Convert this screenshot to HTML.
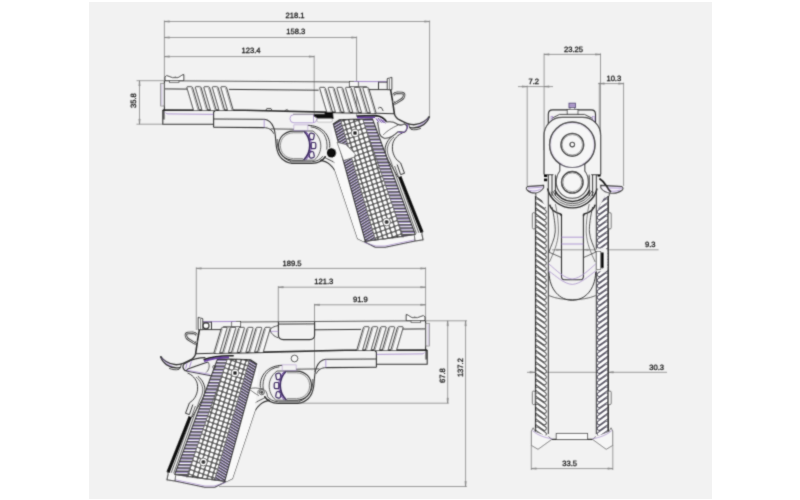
<!DOCTYPE html>
<html><head><meta charset="utf-8"><title>Pistol dimensions</title>
<style>
html,body{margin:0;padding:0;background:#fff;}
body{width:800px;height:500px;overflow:hidden;font-family:"Liberation Sans",sans-serif;}
svg{display:block}
svg text{font-family:"Liberation Sans",sans-serif;font-size:7.6px;fill:#161616;stroke:#161616;stroke-width:0.28px;text-rendering:geometricPrecision;}
</style></head><body>
<svg width="800" height="500" viewBox="0 0 800 500">
<rect x="0" y="0" width="800" height="500" fill="#ffffff"/>
<rect x="89" y="2" width="623" height="497" fill="#f2f2f2"/>
<defs><filter id="soft" x="0" y="0" width="800" height="500" filterUnits="userSpaceOnUse"><feConvolveMatrix order="3" kernelMatrix="0.03 0.1 0.03 0.1 0.48 0.1 0.03 0.1 0.03" divisor="1" edgeMode="none" preserveAlpha="false"/></filter></defs>
<g id="drawing" filter="url(#soft)">
<g id="dims" opacity="0.999">
<line x1="164.4" y1="21.5" x2="429.6" y2="21.5" stroke="#858585" stroke-width="0.8" />
<line x1="164.4" y1="37.5" x2="356.6" y2="37.5" stroke="#858585" stroke-width="0.8" />
<line x1="164.4" y1="56.6" x2="314.2" y2="56.6" stroke="#858585" stroke-width="0.8" />
<line x1="164.4" y1="20.5" x2="164.4" y2="80.5" stroke="#858585" stroke-width="0.8" />
<line x1="429.6" y1="20.5" x2="429.6" y2="116.3" stroke="#858585" stroke-width="0.8" />
<line x1="356.6" y1="36.5" x2="356.6" y2="116" stroke="#858585" stroke-width="0.8" />
<line x1="314.2" y1="55.6" x2="314.2" y2="114" stroke="#858585" stroke-width="0.8" />
<path d="M164.4,21.5 L169.4,20.75 L169.4,22.25 Z" fill="#9a9a9a" stroke="#777" stroke-width="0.4"/>
<path d="M164.4,37.5 L169.4,36.75 L169.4,38.25 Z" fill="#9a9a9a" stroke="#777" stroke-width="0.4"/>
<path d="M164.4,56.6 L169.4,55.85 L169.4,57.35 Z" fill="#9a9a9a" stroke="#777" stroke-width="0.4"/>
<path d="M429.6,21.5 L424.6,20.75 L424.6,22.25 Z" fill="#9a9a9a" stroke="#777" stroke-width="0.4"/>
<path d="M356.6,37.5 L351.6,36.75 L351.6,38.25 Z" fill="#9a9a9a" stroke="#777" stroke-width="0.4"/>
<path d="M314.2,56.6 L309.2,55.85 L309.2,57.35 Z" fill="#9a9a9a" stroke="#777" stroke-width="0.4"/>
<text x="295" y="18.4" text-anchor="middle">218.1</text>
<text x="295.8" y="34.2" text-anchor="middle">158.3</text>
<text x="251" y="53.4" text-anchor="middle">123.4</text>
<line x1="139.5" y1="80.7" x2="139.5" y2="124.2" stroke="#858585" stroke-width="0.8" />
<line x1="136.5" y1="80.7" x2="164" y2="80.7" stroke="#858585" stroke-width="0.8" />
<line x1="136.5" y1="124.2" x2="163" y2="124.2" stroke="#858585" stroke-width="0.8" />
<path d="M139.5,80.7 L138.75,85.7 L140.25,85.7 Z" fill="#9a9a9a" stroke="#777" stroke-width="0.4"/>
<path d="M139.5,124.2 L138.75,119.2 L140.25,119.2 Z" fill="#9a9a9a" stroke="#777" stroke-width="0.4"/>
<text x="136.5" y="100.6" text-anchor="middle" transform="rotate(-90 136.5 100.6)">35.8</text>
<line x1="196.3" y1="268.4" x2="425.6" y2="268.4" stroke="#858585" stroke-width="0.8" />
<line x1="278.3" y1="287.2" x2="425.6" y2="287.2" stroke="#858585" stroke-width="0.8" />
<line x1="314.5" y1="304.8" x2="425.6" y2="304.8" stroke="#858585" stroke-width="0.8" />
<line x1="196.3" y1="267.4" x2="196.3" y2="330" stroke="#858585" stroke-width="0.8" />
<line x1="278.3" y1="286.2" x2="278.3" y2="322" stroke="#858585" stroke-width="0.8" />
<line x1="314.5" y1="303.8" x2="314.5" y2="372" stroke="#858585" stroke-width="0.8" />
<line x1="425.6" y1="267.4" x2="425.6" y2="320.6" stroke="#858585" stroke-width="0.8" />
<path d="M196.3,268.4 L201.3,267.65 L201.3,269.15 Z" fill="#9a9a9a" stroke="#777" stroke-width="0.4"/>
<path d="M278.3,287.2 L283.3,286.45 L283.3,287.95 Z" fill="#9a9a9a" stroke="#777" stroke-width="0.4"/>
<path d="M314.5,304.8 L319.5,304.05 L319.5,305.55 Z" fill="#9a9a9a" stroke="#777" stroke-width="0.4"/>
<path d="M425.6,268.4 L420.6,267.65 L420.6,269.15 Z" fill="#9a9a9a" stroke="#777" stroke-width="0.4"/>
<path d="M425.6,287.2 L420.6,286.45 L420.6,287.95 Z" fill="#9a9a9a" stroke="#777" stroke-width="0.4"/>
<path d="M425.6,304.8 L420.6,304.05 L420.6,305.55 Z" fill="#9a9a9a" stroke="#777" stroke-width="0.4"/>
<text x="292.1" y="265.5" text-anchor="middle">189.5</text>
<text x="323.8" y="283.8" text-anchor="middle">121.3</text>
<text x="360.3" y="301.8" text-anchor="middle">91.9</text>
<line x1="425.6" y1="320.8" x2="467" y2="320.8" stroke="#858585" stroke-width="0.8" />
<line x1="447.7" y1="320.8" x2="447.7" y2="403.2" stroke="#858585" stroke-width="0.8" />
<line x1="465.6" y1="320.8" x2="465.6" y2="486.5" stroke="#858585" stroke-width="0.8" />
<line x1="279" y1="403.2" x2="448.8" y2="403.2" stroke="#858585" stroke-width="0.8" />
<line x1="219" y1="486.5" x2="466.8" y2="486.5" stroke="#858585" stroke-width="0.8" />
<path d="M447.7,320.8 L446.95,325.8 L448.45,325.8 Z" fill="#9a9a9a" stroke="#777" stroke-width="0.4"/>
<path d="M447.7,403.2 L446.95,398.2 L448.45,398.2 Z" fill="#9a9a9a" stroke="#777" stroke-width="0.4"/>
<path d="M465.6,320.8 L464.85,325.8 L466.35,325.8 Z" fill="#9a9a9a" stroke="#777" stroke-width="0.4"/>
<path d="M465.6,486.5 L464.85,481.5 L466.35,481.5 Z" fill="#9a9a9a" stroke="#777" stroke-width="0.4"/>
<text x="444.6" y="375.6" text-anchor="middle" transform="rotate(-90 444.6 375.6)">67.8</text>
<text x="462.6" y="367.6" text-anchor="middle" transform="rotate(-90 462.6 367.6)">137.2</text>
<line x1="544.1" y1="54.4" x2="600.5" y2="54.4" stroke="#858585" stroke-width="0.8" />
<line x1="544.1" y1="53.4" x2="544.1" y2="150" stroke="#858585" stroke-width="0.8" />
<line x1="600.5" y1="53.4" x2="600.5" y2="150" stroke="#858585" stroke-width="0.8" />
<path d="M544.1,54.4 L549.1,53.65 L549.1,55.15 Z" fill="#9a9a9a" stroke="#777" stroke-width="0.4"/>
<path d="M600.5,54.4 L595.5,53.65 L595.5,55.15 Z" fill="#9a9a9a" stroke="#777" stroke-width="0.4"/>
<text x="573.5" y="51.6" text-anchor="middle">23.25</text>
<line x1="518" y1="86.6" x2="553" y2="86.6" stroke="#858585" stroke-width="0.8" />
<line x1="527.2" y1="85.6" x2="527.2" y2="186" stroke="#858585" stroke-width="0.8" />
<path d="M527.2,86.6 L522.2,85.85 L522.2,87.35 Z" fill="#9a9a9a" stroke="#777" stroke-width="0.4"/>
<path d="M544.1,86.6 L549.1,85.85 L549.1,87.35 Z" fill="#9a9a9a" stroke="#777" stroke-width="0.4"/>
<text x="533.7" y="83.6" text-anchor="middle">7.2</text>
<line x1="598" y1="83.6" x2="623.6" y2="83.6" stroke="#858585" stroke-width="0.8" />
<line x1="599.3" y1="82.6" x2="599.3" y2="150" stroke="#858585" stroke-width="0.8" />
<line x1="623.6" y1="82.6" x2="623.6" y2="186" stroke="#858585" stroke-width="0.8" />
<path d="M599.3,83.6 L604.3,82.85 L604.3,84.35 Z" fill="#9a9a9a" stroke="#777" stroke-width="0.4"/>
<path d="M623.6,83.6 L618.6,82.85 L618.6,84.35 Z" fill="#9a9a9a" stroke="#777" stroke-width="0.4"/>
<text x="613.8" y="81" text-anchor="middle">10.3</text>
<line x1="552" y1="249.8" x2="658.6" y2="249.8" stroke="#858585" stroke-width="0.8" />
<path d="M561.5,249.8 L556.5,249.05 L556.5,250.55 Z" fill="#9a9a9a" stroke="#777" stroke-width="0.4"/>
<path d="M583.4,249.8 L588.4,249.05 L588.4,250.55 Z" fill="#9a9a9a" stroke="#777" stroke-width="0.4"/>
<text x="650.2" y="246.8" text-anchor="middle">9.3</text>
<line x1="527" y1="372.3" x2="667" y2="372.3" stroke="#858585" stroke-width="0.8" />
<path d="M534.9,372.3 L529.9,371.55 L529.9,373.05 Z" fill="#9a9a9a" stroke="#777" stroke-width="0.4"/>
<path d="M608.4,372.3 L613.4,371.55 L613.4,373.05 Z" fill="#9a9a9a" stroke="#777" stroke-width="0.4"/>
<text x="656.6" y="369.6" text-anchor="middle">30.3</text>
<line x1="531.3" y1="468.6" x2="612.8" y2="468.6" stroke="#858585" stroke-width="0.8" />
<line x1="531.3" y1="445" x2="531.3" y2="470" stroke="#858585" stroke-width="0.8" />
<line x1="612.8" y1="445" x2="612.8" y2="470" stroke="#858585" stroke-width="0.8" />
<path d="M531.3,468.6 L536.3,467.85 L536.3,469.35 Z" fill="#9a9a9a" stroke="#777" stroke-width="0.4"/>
<path d="M612.8,468.6 L607.8,467.85 L607.8,469.35 Z" fill="#9a9a9a" stroke="#777" stroke-width="0.4"/>
<text x="569.7" y="465.5" text-anchor="middle">33.5</text>
</g>
<g id="gunTop">
<path d="M164.4,80.7 L349.5,82" stroke="#5e5e5e" stroke-width="1.037" fill="none" />
<line x1="164.4" y1="80.7" x2="164.4" y2="110.1" stroke="#323232" stroke-width="1.098" />
<line x1="164.4" y1="88.9" x2="187.6" y2="89.1" stroke="#323232" stroke-width="0.976" />
<line x1="229" y1="89.4" x2="318.6" y2="90.2" stroke="#323232" stroke-width="0.976" />
<path d="M162.8,110.1 L245,110.3 L345,112.6 L376,113.3" stroke="#2a2a2a" stroke-width="1.586" fill="none" />
<path d="M376,113.3 L394.4,113.8" stroke="#323232" stroke-width="1.098" fill="none" />
<path d="M390.6,89.6 L392.4,100 L394.4,113.8" stroke="#2a2a2a" stroke-width="1.586" fill="none" />
<path d="M165,80.5 L165,76.9 L166.7,75.6 L172.5,77.7 L178,77.7 L183,74.6 L183.8,74.6 L183.8,80.5Z" stroke="#323232" stroke-width="0.976" fill="#fbfbfb" />
<rect x="169.5" y="80.5" width="9.5" height="1.8" fill="#e4e4e4" stroke="#323232" stroke-width="0.7"/>
<circle cx="175.2" cy="77.0" r="0.5" fill="#333"/>
<rect x="160.7" y="83.3" width="3.7" height="22.7" fill="none" stroke="#777" stroke-width="0.7"/>
<line x1="161.8" y1="84.2" x2="161.8" y2="105.2" stroke="#b9a9d2" stroke-width="0.671" />
<path d="M193.52,110.16 L186.95,87.8 Q186.6,86.7 187.6,86.7 L191.3,86.7 Q192.3,86.7 192.65,87.8 L199.22,110.16" stroke="#323232" stroke-width="0.976" fill="#f6f6f6" />
<line x1="191.45" y1="87.8" x2="198.02" y2="110.16" stroke="#5a5a5a" stroke-width="0.549" />
<path d="M202.03,110.18 L195.45,87.8 Q195.1,86.7 196.1,86.7 L199.8,86.7 Q200.8,86.7 201.15,87.8 L207.73,110.18" stroke="#323232" stroke-width="0.976" fill="#f6f6f6" />
<line x1="199.95" y1="87.8" x2="206.53" y2="110.18" stroke="#5a5a5a" stroke-width="0.549" />
<path d="M210.53,110.2 L203.95,87.8 Q203.6,86.7 204.6,86.7 L208.3,86.7 Q209.3,86.7 209.65,87.8 L216.23,110.2" stroke="#323232" stroke-width="0.976" fill="#f6f6f6" />
<line x1="208.45" y1="87.8" x2="215.03" y2="110.2" stroke="#5a5a5a" stroke-width="0.549" />
<path d="M219.04,110.22 L212.45,87.8 Q212.1,86.7 213.1,86.7 L216.8,86.7 Q217.8,86.7 218.15,87.8 L224.74,110.22" stroke="#323232" stroke-width="0.976" fill="#f6f6f6" />
<line x1="216.95" y1="87.8" x2="223.54" y2="110.22" stroke="#5a5a5a" stroke-width="0.549" />
<path d="M227.54,110.24 L220.95,87.8 Q220.6,86.7 221.6,86.7 L225.3,86.7 Q226.3,86.7 226.65,87.8 L233.24,110.24" stroke="#323232" stroke-width="0.976" fill="#f6f6f6" />
<line x1="225.45" y1="87.8" x2="232.04" y2="110.24" stroke="#5a5a5a" stroke-width="0.549" />
<path d="M326.78,112.01 L319.75,88.5 Q319.4,87.4 320.4,87.4 L324.1,87.4 Q325.1,87.4 325.45,88.5 L332.48,112.01" stroke="#323232" stroke-width="0.976" fill="#f6f6f6" />
<line x1="324.25" y1="88.5" x2="331.28" y2="112.01" stroke="#5a5a5a" stroke-width="0.549" />
<path d="M335.5,112.21 L328.41,88.5 Q328.06,87.4 329.06,87.4 L332.76,87.4 Q333.76,87.4 334.11,88.5 L341.2,112.21" stroke="#323232" stroke-width="0.976" fill="#f6f6f6" />
<line x1="332.91" y1="88.5" x2="340" y2="112.21" stroke="#5a5a5a" stroke-width="0.549" />
<path d="M344.22,112.41 L337.07,88.5 Q336.72,87.4 337.72,87.4 L341.42,87.4 Q342.42,87.4 342.77,88.5 L349.92,112.41" stroke="#323232" stroke-width="0.976" fill="#f6f6f6" />
<line x1="341.57" y1="88.5" x2="348.72" y2="112.41" stroke="#5a5a5a" stroke-width="0.549" />
<path d="M352.94,112.61 L345.73,88.5 Q345.38,87.4 346.38,87.4 L350.08,87.4 Q351.08,87.4 351.43,88.5 L358.64,112.61" stroke="#323232" stroke-width="0.976" fill="#f6f6f6" />
<line x1="350.23" y1="88.5" x2="357.44" y2="112.61" stroke="#5a5a5a" stroke-width="0.549" />
<path d="M361.66,112.81 L354.39,88.5 Q354.04,87.4 355.04,87.4 L358.74,87.4 Q359.74,87.4 360.09,88.5 L367.36,112.81" stroke="#323232" stroke-width="0.976" fill="#f6f6f6" />
<line x1="358.89" y1="88.5" x2="366.16" y2="112.81" stroke="#5a5a5a" stroke-width="0.549" />
<path d="M370.38,113.01 L363.05,88.5 Q362.7,87.4 363.7,87.4 L367.4,87.4 Q368.4,87.4 368.75,88.5 L376.08,113.01" stroke="#323232" stroke-width="0.976" fill="#f6f6f6" />
<line x1="367.55" y1="88.5" x2="374.88" y2="113.01" stroke="#5a5a5a" stroke-width="0.549" />
<rect x="349.5" y="81.4" width="8.8" height="5.2" fill="#f6f6f6" stroke="#323232" stroke-width="0.8"/>
<line x1="354" y1="81.5" x2="389" y2="81.7" stroke="#9878c6" stroke-width="0.854" />
<path d="M358.3,86.9 L366.8,86.9" stroke="#323232" stroke-width="0.976" fill="none" />
<path d="M368.6,89.6 L390.6,89.6" stroke="#323232" stroke-width="0.976" fill="none" />
<path d="M378.5,81.7 L378.5,89.6" stroke="#323232" stroke-width="0.976" fill="none" />
<path d="M378.5,82.2 L387.3,82.2" stroke="#323232" stroke-width="0.854" fill="none" />
<path d="M387.3,89.6 L387.3,78.6 L389.2,78.2 L391.8,77.3 L391.8,89.6Z" stroke="#323232" stroke-width="0.976" fill="#fbfbfb" />
<line x1="389.4" y1="79" x2="389.4" y2="89" stroke="#323232" stroke-width="0.732" />
<path d="M393.2,95 C394.2,93.6 395.8,92.8 397.2,92.7 L402.2,93 C404,93.3 404.4,94.8 404,96 C403.6,97.8 403,98.6 401.6,99.4 L395.4,103.2 C394.3,103.8 393.4,102.6 393.2,101.2" stroke="#2a2a2a" stroke-width="2.5" fill="none" />
<path d="M393.2,95 C394.2,93.6 395.8,92.8 397.2,92.7 L402.2,93 C404,93.3 404.4,94.8 404,96 C403.6,97.8 403,98.6 401.6,99.4 L395.4,103.2 C394.3,103.8 393.4,102.6 393.2,101.2" stroke="#eeeeee" stroke-width="0.854" fill="none" />
<path d="M162.8,110.1 L162.8,124.2 L213.6,124.2" stroke="#323232" stroke-width="1.098" fill="none" />
<line x1="163.9" y1="110.4" x2="163.9" y2="119.5" stroke="#2a2a2a" stroke-width="1.22" />
<path d="M165.5,112.6 C166.5,113.8 167.5,113.9 169,113.9 L213.6,114.4" stroke="#9878c6" stroke-width="0.732" fill="none" />
<path d="M213.6,127.2 L213.6,112.6 Q213.6,111.1 215.2,111.1" stroke="#323232" stroke-width="1.098" fill="none" />
<path d="M213.6,127.2 L264,127.6" stroke="#323232" stroke-width="1.098" fill="none" />
<path d="M214,119 L264.2,119.3" stroke="#323232" stroke-width="0.976" fill="none" />
<line x1="264.2" y1="119.5" x2="264.2" y2="127.4" stroke="#9878c6" stroke-width="0.732" />
<path d="M265.8,110.3 L266.8,108.6 L271,108.6 L272,110.3" stroke="#323232" stroke-width="0.854" fill="none" />
<path d="M285,110.9 L285.8,109.8 L287.6,109.8 L288.2,111" stroke="#323232" stroke-width="0.732" fill="none" />
<path d="M264.2,119.3 C268.5,119.6 272,123.4 273.7,127.6 C275.8,133 275.4,140.5 276.4,146.8 C277.6,154.6 282.4,161.8 292,163.4 L312,163.4 C318.6,163.2 323,160.4 325.6,156.4" stroke="#323232" stroke-width="1.098" fill="none" />
<path d="M264,127.6 C268.5,127.8 272,129.6 273.6,133.6" stroke="#323232" stroke-width="0.976" fill="none" />
<path d="M277.2,139 C276.6,147 279.6,157.6 291.4,161.8 L311.6,161.8 C316.4,161.6 320.6,159.4 322.8,156.2" stroke="#323232" stroke-width="0.854" fill="none" />
<path d="M303.2,131.1 L293,131.1 C284.4,131.4 278.6,137.6 278.6,145.6 C278.6,153.8 284.6,160 293,160.2 L303.4,160.2" stroke="#323232" stroke-width="1.098" fill="none" />
<path d="M303,132.8 L293.4,132.8 C285.6,133 280.4,138.6 280.4,145.6 C280.4,152.8 285.8,158.4 293.4,158.6 L303,158.6" stroke="#666" stroke-width="0.732" fill="none" />
<path d="M270.6,128.9 L294,129.2" stroke="#323232" stroke-width="0.854" fill="none" />
<path d="M303.6,131 A20.3,20.3 0 0 1 303.6,160.2" stroke="#3d2b62" stroke-width="1.7" fill="none" />
<path d="M305.4,131 A21,21 0 0 1 305.6,160.2" stroke="#6a3fa6" stroke-width="0.976" fill="none" />
<path d="M302.8,131 L313,131 C318.4,135 320.8,140.6 320.8,145.8 C320.8,151 318.8,156.4 314.2,160.2 L302.8,160.2" stroke="#555" stroke-width="0.976" fill="none" />
<rect x="309.2" y="133.3" width="4.8" height="6.2" rx="1.4" fill="none" stroke="#3d2b62" stroke-width="1.2" transform="rotate(12 311.6 136.4)"/>
<rect x="311" y="142.5" width="4.8" height="6.2" rx="1.4" fill="none" stroke="#3d2b62" stroke-width="1.2" transform="rotate(0 313.4 145.6)"/>
<rect x="309.2" y="151.7" width="4.8" height="6.2" rx="1.4" fill="none" stroke="#3d2b62" stroke-width="1.2" transform="rotate(-12 311.6 154.8)"/>
<rect x="293.9" y="124.9" width="14" height="5.8" fill="none" stroke="#a58bc9" stroke-width="0.5"/>
<path d="M307.9,125.3 C314,125.4 320.7,127.6 325,132.4 C328.6,136.6 330.4,142.6 329.6,147.6" stroke="#323232" stroke-width="0.976" fill="none" />
<path d="M310.6,126.8 C316,127.4 321,130 324,134.4 C326.6,138.4 327.6,143.6 326.8,149.6" stroke="#323232" stroke-width="0.854" fill="none" />
<path d="M325.6,156.4 C324,158.6 322,160.2 320,160.6 C324,160.8 327,162 329.4,164.2 C331.6,166.2 333.6,168.2 335,170.6 L357.6,238.6 L364,241.8" stroke="#323232" stroke-width="1.098" fill="none" />
<path d="M324,157 C327,159 331,160.4 333.6,162 C337,164 341,167.4 344,169.4" stroke="#323232" stroke-width="0.854" fill="none" />
<path d="M337.4,170.2 L360.2,239.6" stroke="#555" stroke-width="0.854" fill="none" />
<path d="M331.4,122.6 L335,170.6 L357.6,238.6 L364,241.8 L364,241.6 L332.6,124Z" stroke="none" stroke-width="0" fill="#f9f9f9" />
<path d="M364,241.6 L375.2,247.3 L385.3,247.3 L415,241 L423,239.7 L421.8,234" stroke="#323232" stroke-width="1.098" fill="#f8f8f8" />
<path d="M364.6,242.6 L376,246 L385,246 L414.6,239.8" stroke="#9878c6" stroke-width="0.61" fill="none" />
<line x1="415" y1="241" x2="414.4" y2="235.4" stroke="#323232" stroke-width="0.854" />
<path d="M392.1,136.3 C388,139.5 385.2,144.5 385,149.9 C385.2,154 387,158 388.2,160.3 L398,177.2" stroke="#323232" stroke-width="0.976" fill="none" />
<path d="M394,137 C390,140.4 387.4,145 387.2,150 C387.4,154 389,157.4 390.4,160 L416.4,233.4" stroke="#555" stroke-width="0.854" fill="none" />
<path d="M402.5,133 C398,134.5 394,139 392.8,143.4 C392,148 392.4,151 393.4,153.8 C394.4,156.6 395.6,158.4 397.3,160.3 L400.6,162.9 L404.5,173.3 L400.6,174.6 L397.2,164.6" stroke="#323232" stroke-width="0.976" fill="none" />
<path d="M394.6,166 L418.8,232.8" stroke="#555" stroke-width="0.854" fill="none" />
<path d="M399.8,176.6 L422,232.4" stroke="#0c0c0c" stroke-width="3.2" fill="none" />
<path d="M421.8,234 L422.6,231" stroke="#323232" stroke-width="0.854" fill="none" />
<defs>
<clipPath id="gripLL"><path d="M333.2,124 L339.4,119.9 L340.47,119.2 L375.67,240.6 L365.2,241.4Z"/></clipPath>
<clipPath id="gripCL"><path d="M340.41,119 L362.54,118.8 L403.38,237.2 L375.67,240.6Z"/></clipPath>
<clipPath id="gripRL"><path d="M362.54,118.8 L372.4,118.9 L415.3,234.6 L403.38,237.2Z"/></clipPath>
</defs>
<path d="M333.2,124 L339.4,119.9 L372.4,118.9 L415.3,234.6 L365.2,241.4Z" stroke="none" stroke-width="0" fill="#ffffff" />
<g clip-path="url(#gripLL)">
<rect x="325" y="110" width="60" height="140" fill="#ffffff"/>
<path d="M325,113.05 L385,75.85" stroke="#9a88c0" stroke-width="1.2"/>
<path d="M325,112 L385,74.8" stroke="#262626" stroke-width="1.2"/>
<path d="M325,116.05 L385,78.85" stroke="#9a88c0" stroke-width="1.2"/>
<path d="M325,115 L385,77.8" stroke="#262626" stroke-width="1.2"/>
<path d="M325,119.05 L385,81.85" stroke="#9a88c0" stroke-width="1.2"/>
<path d="M325,118 L385,80.8" stroke="#262626" stroke-width="1.2"/>
<path d="M325,122.05 L385,84.85" stroke="#9a88c0" stroke-width="1.2"/>
<path d="M325,121 L385,83.8" stroke="#262626" stroke-width="1.2"/>
<path d="M325,125.05 L385,87.85" stroke="#9a88c0" stroke-width="1.2"/>
<path d="M325,124 L385,86.8" stroke="#262626" stroke-width="1.2"/>
<path d="M325,128.05 L385,90.85" stroke="#9a88c0" stroke-width="1.2"/>
<path d="M325,127 L385,89.8" stroke="#262626" stroke-width="1.2"/>
<path d="M325,131.05 L385,93.85" stroke="#9a88c0" stroke-width="1.2"/>
<path d="M325,130 L385,92.8" stroke="#262626" stroke-width="1.2"/>
<path d="M325,134.05 L385,96.85" stroke="#9a88c0" stroke-width="1.2"/>
<path d="M325,133 L385,95.8" stroke="#262626" stroke-width="1.2"/>
<path d="M325,137.05 L385,99.85" stroke="#9a88c0" stroke-width="1.2"/>
<path d="M325,136 L385,98.8" stroke="#262626" stroke-width="1.2"/>
<path d="M325,140.05 L385,102.85" stroke="#9a88c0" stroke-width="1.2"/>
<path d="M325,139 L385,101.8" stroke="#262626" stroke-width="1.2"/>
<path d="M325,143.05 L385,105.85" stroke="#9a88c0" stroke-width="1.2"/>
<path d="M325,142 L385,104.8" stroke="#262626" stroke-width="1.2"/>
<path d="M325,146.05 L385,108.85" stroke="#9a88c0" stroke-width="1.2"/>
<path d="M325,145 L385,107.8" stroke="#262626" stroke-width="1.2"/>
<path d="M325,149.05 L385,111.85" stroke="#9a88c0" stroke-width="1.2"/>
<path d="M325,148 L385,110.8" stroke="#262626" stroke-width="1.2"/>
<path d="M325,152.05 L385,114.85" stroke="#9a88c0" stroke-width="1.2"/>
<path d="M325,151 L385,113.8" stroke="#262626" stroke-width="1.2"/>
<path d="M325,155.05 L385,117.85" stroke="#9a88c0" stroke-width="1.2"/>
<path d="M325,154 L385,116.8" stroke="#262626" stroke-width="1.2"/>
<path d="M325,158.05 L385,120.85" stroke="#9a88c0" stroke-width="1.2"/>
<path d="M325,157 L385,119.8" stroke="#262626" stroke-width="1.2"/>
<path d="M325,161.05 L385,123.85" stroke="#9a88c0" stroke-width="1.2"/>
<path d="M325,160 L385,122.8" stroke="#262626" stroke-width="1.2"/>
<path d="M325,164.05 L385,126.85" stroke="#9a88c0" stroke-width="1.2"/>
<path d="M325,163 L385,125.8" stroke="#262626" stroke-width="1.2"/>
<path d="M325,167.05 L385,129.85" stroke="#9a88c0" stroke-width="1.2"/>
<path d="M325,166 L385,128.8" stroke="#262626" stroke-width="1.2"/>
<path d="M325,170.05 L385,132.85" stroke="#9a88c0" stroke-width="1.2"/>
<path d="M325,169 L385,131.8" stroke="#262626" stroke-width="1.2"/>
<path d="M325,173.05 L385,135.85" stroke="#9a88c0" stroke-width="1.2"/>
<path d="M325,172 L385,134.8" stroke="#262626" stroke-width="1.2"/>
<path d="M325,176.05 L385,138.85" stroke="#9a88c0" stroke-width="1.2"/>
<path d="M325,175 L385,137.8" stroke="#262626" stroke-width="1.2"/>
<path d="M325,179.05 L385,141.85" stroke="#9a88c0" stroke-width="1.2"/>
<path d="M325,178 L385,140.8" stroke="#262626" stroke-width="1.2"/>
<path d="M325,182.05 L385,144.85" stroke="#9a88c0" stroke-width="1.2"/>
<path d="M325,181 L385,143.8" stroke="#262626" stroke-width="1.2"/>
<path d="M325,185.05 L385,147.85" stroke="#9a88c0" stroke-width="1.2"/>
<path d="M325,184 L385,146.8" stroke="#262626" stroke-width="1.2"/>
<path d="M325,188.05 L385,150.85" stroke="#9a88c0" stroke-width="1.2"/>
<path d="M325,187 L385,149.8" stroke="#262626" stroke-width="1.2"/>
<path d="M325,191.05 L385,153.85" stroke="#9a88c0" stroke-width="1.2"/>
<path d="M325,190 L385,152.8" stroke="#262626" stroke-width="1.2"/>
<path d="M325,194.05 L385,156.85" stroke="#9a88c0" stroke-width="1.2"/>
<path d="M325,193 L385,155.8" stroke="#262626" stroke-width="1.2"/>
<path d="M325,197.05 L385,159.85" stroke="#9a88c0" stroke-width="1.2"/>
<path d="M325,196 L385,158.8" stroke="#262626" stroke-width="1.2"/>
<path d="M325,200.05 L385,162.85" stroke="#9a88c0" stroke-width="1.2"/>
<path d="M325,199 L385,161.8" stroke="#262626" stroke-width="1.2"/>
<path d="M325,203.05 L385,165.85" stroke="#9a88c0" stroke-width="1.2"/>
<path d="M325,202 L385,164.8" stroke="#262626" stroke-width="1.2"/>
<path d="M325,206.05 L385,168.85" stroke="#9a88c0" stroke-width="1.2"/>
<path d="M325,205 L385,167.8" stroke="#262626" stroke-width="1.2"/>
<path d="M325,209.05 L385,171.85" stroke="#9a88c0" stroke-width="1.2"/>
<path d="M325,208 L385,170.8" stroke="#262626" stroke-width="1.2"/>
<path d="M325,212.05 L385,174.85" stroke="#9a88c0" stroke-width="1.2"/>
<path d="M325,211 L385,173.8" stroke="#262626" stroke-width="1.2"/>
<path d="M325,215.05 L385,177.85" stroke="#9a88c0" stroke-width="1.2"/>
<path d="M325,214 L385,176.8" stroke="#262626" stroke-width="1.2"/>
<path d="M325,218.05 L385,180.85" stroke="#9a88c0" stroke-width="1.2"/>
<path d="M325,217 L385,179.8" stroke="#262626" stroke-width="1.2"/>
<path d="M325,221.05 L385,183.85" stroke="#9a88c0" stroke-width="1.2"/>
<path d="M325,220 L385,182.8" stroke="#262626" stroke-width="1.2"/>
<path d="M325,224.05 L385,186.85" stroke="#9a88c0" stroke-width="1.2"/>
<path d="M325,223 L385,185.8" stroke="#262626" stroke-width="1.2"/>
<path d="M325,227.05 L385,189.85" stroke="#9a88c0" stroke-width="1.2"/>
<path d="M325,226 L385,188.8" stroke="#262626" stroke-width="1.2"/>
<path d="M325,230.05 L385,192.85" stroke="#9a88c0" stroke-width="1.2"/>
<path d="M325,229 L385,191.8" stroke="#262626" stroke-width="1.2"/>
<path d="M325,233.05 L385,195.85" stroke="#9a88c0" stroke-width="1.2"/>
<path d="M325,232 L385,194.8" stroke="#262626" stroke-width="1.2"/>
<path d="M325,236.05 L385,198.85" stroke="#9a88c0" stroke-width="1.2"/>
<path d="M325,235 L385,197.8" stroke="#262626" stroke-width="1.2"/>
<path d="M325,239.05 L385,201.85" stroke="#9a88c0" stroke-width="1.2"/>
<path d="M325,238 L385,200.8" stroke="#262626" stroke-width="1.2"/>
<path d="M325,242.05 L385,204.85" stroke="#9a88c0" stroke-width="1.2"/>
<path d="M325,241 L385,203.8" stroke="#262626" stroke-width="1.2"/>
<path d="M325,245.05 L385,207.85" stroke="#9a88c0" stroke-width="1.2"/>
<path d="M325,244 L385,206.8" stroke="#262626" stroke-width="1.2"/>
<path d="M325,248.05 L385,210.85" stroke="#9a88c0" stroke-width="1.2"/>
<path d="M325,247 L385,209.8" stroke="#262626" stroke-width="1.2"/>
<path d="M325,251.05 L385,213.85" stroke="#9a88c0" stroke-width="1.2"/>
<path d="M325,250 L385,212.8" stroke="#262626" stroke-width="1.2"/>
<path d="M325,254.05 L385,216.85" stroke="#9a88c0" stroke-width="1.2"/>
<path d="M325,253 L385,215.8" stroke="#262626" stroke-width="1.2"/>
<path d="M325,257.05 L385,219.85" stroke="#9a88c0" stroke-width="1.2"/>
<path d="M325,256 L385,218.8" stroke="#262626" stroke-width="1.2"/>
<path d="M325,260.05 L385,222.85" stroke="#9a88c0" stroke-width="1.2"/>
<path d="M325,259 L385,221.8" stroke="#262626" stroke-width="1.2"/>
<path d="M325,263.05 L385,225.85" stroke="#9a88c0" stroke-width="1.2"/>
<path d="M325,262 L385,224.8" stroke="#262626" stroke-width="1.2"/>
<path d="M325,266.05 L385,228.85" stroke="#9a88c0" stroke-width="1.2"/>
<path d="M325,265 L385,227.8" stroke="#262626" stroke-width="1.2"/>
<path d="M325,269.05 L385,231.85" stroke="#9a88c0" stroke-width="1.2"/>
<path d="M325,268 L385,230.8" stroke="#262626" stroke-width="1.2"/>
<path d="M325,272.05 L385,234.85" stroke="#9a88c0" stroke-width="1.2"/>
<path d="M325,271 L385,233.8" stroke="#262626" stroke-width="1.2"/>
<path d="M325,275.05 L385,237.85" stroke="#9a88c0" stroke-width="1.2"/>
<path d="M325,274 L385,236.8" stroke="#262626" stroke-width="1.2"/>
<path d="M325,278.05 L385,240.85" stroke="#9a88c0" stroke-width="1.2"/>
<path d="M325,277 L385,239.8" stroke="#262626" stroke-width="1.2"/>
<path d="M325,281.05 L385,243.85" stroke="#9a88c0" stroke-width="1.2"/>
<path d="M325,280 L385,242.8" stroke="#262626" stroke-width="1.2"/>
<path d="M325,284.05 L385,246.85" stroke="#9a88c0" stroke-width="1.2"/>
<path d="M325,283 L385,245.8" stroke="#262626" stroke-width="1.2"/>
<path d="M325,287.05 L385,249.85" stroke="#9a88c0" stroke-width="1.2"/>
<path d="M325,286 L385,248.8" stroke="#262626" stroke-width="1.2"/>
<path d="M325,290.05 L385,252.85" stroke="#9a88c0" stroke-width="1.2"/>
<path d="M325,289 L385,251.8" stroke="#262626" stroke-width="1.2"/>
</g>
<g clip-path="url(#gripCL)">
<rect x="335" y="110" width="70" height="140" fill="#565656"/>
<rect x="338" y="112.75" width="3.4" height="3.4" rx="1.0" fill="#ffffff" transform="rotate(-18 339.7 114.45)"/>
<rect x="339.3" y="117.25" width="3.4" height="3.4" rx="1.0" fill="#ffffff" transform="rotate(-18 341 118.95)"/>
<rect x="340.6" y="121.75" width="3.4" height="3.4" rx="1.0" fill="#ffffff" transform="rotate(-18 342.3 123.45)"/>
<rect x="341.9" y="126.25" width="3.4" height="3.4" rx="1.0" fill="#ffffff" transform="rotate(-18 343.6 127.95)"/>
<rect x="343.2" y="130.75" width="3.4" height="3.4" rx="1.0" fill="#ffffff" transform="rotate(-18 344.9 132.45)"/>
<rect x="344.5" y="135.25" width="3.4" height="3.4" rx="1.0" fill="#ffffff" transform="rotate(-18 346.2 136.95)"/>
<rect x="345.8" y="139.75" width="3.4" height="3.4" rx="1.0" fill="#ffffff" transform="rotate(-18 347.5 141.45)"/>
<rect x="347.1" y="144.25" width="3.4" height="3.4" rx="1.0" fill="#ffffff" transform="rotate(-18 348.8 145.95)"/>
<rect x="348.4" y="148.75" width="3.4" height="3.4" rx="1.0" fill="#ffffff" transform="rotate(-18 350.1 150.45)"/>
<rect x="349.7" y="153.25" width="3.4" height="3.4" rx="1.0" fill="#ffffff" transform="rotate(-18 351.4 154.95)"/>
<rect x="351" y="157.75" width="3.4" height="3.4" rx="1.0" fill="#ffffff" transform="rotate(-18 352.7 159.45)"/>
<rect x="352.3" y="162.25" width="3.4" height="3.4" rx="1.0" fill="#ffffff" transform="rotate(-18 354 163.95)"/>
<rect x="353.6" y="166.75" width="3.4" height="3.4" rx="1.0" fill="#ffffff" transform="rotate(-18 355.3 168.45)"/>
<rect x="354.9" y="171.25" width="3.4" height="3.4" rx="1.0" fill="#ffffff" transform="rotate(-18 356.6 172.95)"/>
<rect x="356.2" y="175.75" width="3.4" height="3.4" rx="1.0" fill="#ffffff" transform="rotate(-18 357.9 177.45)"/>
<rect x="357.5" y="180.25" width="3.4" height="3.4" rx="1.0" fill="#ffffff" transform="rotate(-18 359.2 181.95)"/>
<rect x="358.8" y="184.75" width="3.4" height="3.4" rx="1.0" fill="#ffffff" transform="rotate(-18 360.5 186.45)"/>
<rect x="360.1" y="189.25" width="3.4" height="3.4" rx="1.0" fill="#ffffff" transform="rotate(-18 361.8 190.95)"/>
<rect x="361.4" y="193.75" width="3.4" height="3.4" rx="1.0" fill="#ffffff" transform="rotate(-18 363.1 195.45)"/>
<rect x="362.7" y="198.25" width="3.4" height="3.4" rx="1.0" fill="#ffffff" transform="rotate(-18 364.4 199.95)"/>
<rect x="364" y="202.75" width="3.4" height="3.4" rx="1.0" fill="#ffffff" transform="rotate(-18 365.7 204.45)"/>
<rect x="365.3" y="207.25" width="3.4" height="3.4" rx="1.0" fill="#ffffff" transform="rotate(-18 367 208.95)"/>
<rect x="366.6" y="211.75" width="3.4" height="3.4" rx="1.0" fill="#ffffff" transform="rotate(-18 368.3 213.45)"/>
<rect x="367.9" y="216.25" width="3.4" height="3.4" rx="1.0" fill="#ffffff" transform="rotate(-18 369.6 217.95)"/>
<rect x="369.2" y="220.75" width="3.4" height="3.4" rx="1.0" fill="#ffffff" transform="rotate(-18 370.9 222.45)"/>
<rect x="370.5" y="225.25" width="3.4" height="3.4" rx="1.0" fill="#ffffff" transform="rotate(-18 372.2 226.95)"/>
<rect x="371.8" y="229.75" width="3.4" height="3.4" rx="1.0" fill="#ffffff" transform="rotate(-18 373.5 231.45)"/>
<rect x="373.1" y="234.25" width="3.4" height="3.4" rx="1.0" fill="#ffffff" transform="rotate(-18 374.8 235.95)"/>
<rect x="374.4" y="238.75" width="3.4" height="3.4" rx="1.0" fill="#ffffff" transform="rotate(-18 376.1 240.45)"/>
<rect x="375.7" y="243.25" width="3.4" height="3.4" rx="1.0" fill="#ffffff" transform="rotate(-18 377.4 244.95)"/>
<rect x="342.5" y="111.15" width="3.4" height="3.4" rx="1.0" fill="#ffffff" transform="rotate(-18 344.2 112.85)"/>
<rect x="343.8" y="115.65" width="3.4" height="3.4" rx="1.0" fill="#ffffff" transform="rotate(-18 345.5 117.35)"/>
<rect x="345.1" y="120.15" width="3.4" height="3.4" rx="1.0" fill="#ffffff" transform="rotate(-18 346.8 121.85)"/>
<rect x="346.4" y="124.65" width="3.4" height="3.4" rx="1.0" fill="#ffffff" transform="rotate(-18 348.1 126.35)"/>
<rect x="347.7" y="129.15" width="3.4" height="3.4" rx="1.0" fill="#ffffff" transform="rotate(-18 349.4 130.85)"/>
<rect x="349" y="133.65" width="3.4" height="3.4" rx="1.0" fill="#ffffff" transform="rotate(-18 350.7 135.35)"/>
<rect x="350.3" y="138.15" width="3.4" height="3.4" rx="1.0" fill="#ffffff" transform="rotate(-18 352 139.85)"/>
<rect x="351.6" y="142.65" width="3.4" height="3.4" rx="1.0" fill="#ffffff" transform="rotate(-18 353.3 144.35)"/>
<rect x="352.9" y="147.15" width="3.4" height="3.4" rx="1.0" fill="#ffffff" transform="rotate(-18 354.6 148.85)"/>
<rect x="354.2" y="151.65" width="3.4" height="3.4" rx="1.0" fill="#ffffff" transform="rotate(-18 355.9 153.35)"/>
<rect x="355.5" y="156.15" width="3.4" height="3.4" rx="1.0" fill="#ffffff" transform="rotate(-18 357.2 157.85)"/>
<rect x="356.8" y="160.65" width="3.4" height="3.4" rx="1.0" fill="#ffffff" transform="rotate(-18 358.5 162.35)"/>
<rect x="358.1" y="165.15" width="3.4" height="3.4" rx="1.0" fill="#ffffff" transform="rotate(-18 359.8 166.85)"/>
<rect x="359.4" y="169.65" width="3.4" height="3.4" rx="1.0" fill="#ffffff" transform="rotate(-18 361.1 171.35)"/>
<rect x="360.7" y="174.15" width="3.4" height="3.4" rx="1.0" fill="#ffffff" transform="rotate(-18 362.4 175.85)"/>
<rect x="362" y="178.65" width="3.4" height="3.4" rx="1.0" fill="#ffffff" transform="rotate(-18 363.7 180.35)"/>
<rect x="363.3" y="183.15" width="3.4" height="3.4" rx="1.0" fill="#ffffff" transform="rotate(-18 365 184.85)"/>
<rect x="364.6" y="187.65" width="3.4" height="3.4" rx="1.0" fill="#ffffff" transform="rotate(-18 366.3 189.35)"/>
<rect x="365.9" y="192.15" width="3.4" height="3.4" rx="1.0" fill="#ffffff" transform="rotate(-18 367.6 193.85)"/>
<rect x="367.2" y="196.65" width="3.4" height="3.4" rx="1.0" fill="#ffffff" transform="rotate(-18 368.9 198.35)"/>
<rect x="368.5" y="201.15" width="3.4" height="3.4" rx="1.0" fill="#ffffff" transform="rotate(-18 370.2 202.85)"/>
<rect x="369.8" y="205.65" width="3.4" height="3.4" rx="1.0" fill="#ffffff" transform="rotate(-18 371.5 207.35)"/>
<rect x="371.1" y="210.15" width="3.4" height="3.4" rx="1.0" fill="#ffffff" transform="rotate(-18 372.8 211.85)"/>
<rect x="372.4" y="214.65" width="3.4" height="3.4" rx="1.0" fill="#ffffff" transform="rotate(-18 374.1 216.35)"/>
<rect x="373.7" y="219.15" width="3.4" height="3.4" rx="1.0" fill="#ffffff" transform="rotate(-18 375.4 220.85)"/>
<rect x="375" y="223.65" width="3.4" height="3.4" rx="1.0" fill="#ffffff" transform="rotate(-18 376.7 225.35)"/>
<rect x="376.3" y="228.15" width="3.4" height="3.4" rx="1.0" fill="#ffffff" transform="rotate(-18 378 229.85)"/>
<rect x="377.6" y="232.65" width="3.4" height="3.4" rx="1.0" fill="#ffffff" transform="rotate(-18 379.3 234.35)"/>
<rect x="378.9" y="237.15" width="3.4" height="3.4" rx="1.0" fill="#ffffff" transform="rotate(-18 380.6 238.85)"/>
<rect x="380.2" y="241.65" width="3.4" height="3.4" rx="1.0" fill="#ffffff" transform="rotate(-18 381.9 243.35)"/>
<rect x="348.3" y="114.05" width="3.4" height="3.4" rx="1.0" fill="#ffffff" transform="rotate(-18 350 115.75)"/>
<rect x="349.6" y="118.55" width="3.4" height="3.4" rx="1.0" fill="#ffffff" transform="rotate(-18 351.3 120.25)"/>
<rect x="350.9" y="123.05" width="3.4" height="3.4" rx="1.0" fill="#ffffff" transform="rotate(-18 352.6 124.75)"/>
<rect x="352.2" y="127.55" width="3.4" height="3.4" rx="1.0" fill="#ffffff" transform="rotate(-18 353.9 129.25)"/>
<rect x="353.5" y="132.05" width="3.4" height="3.4" rx="1.0" fill="#ffffff" transform="rotate(-18 355.2 133.75)"/>
<rect x="354.8" y="136.55" width="3.4" height="3.4" rx="1.0" fill="#ffffff" transform="rotate(-18 356.5 138.25)"/>
<rect x="356.1" y="141.05" width="3.4" height="3.4" rx="1.0" fill="#ffffff" transform="rotate(-18 357.8 142.75)"/>
<rect x="357.4" y="145.55" width="3.4" height="3.4" rx="1.0" fill="#ffffff" transform="rotate(-18 359.1 147.25)"/>
<rect x="358.7" y="150.05" width="3.4" height="3.4" rx="1.0" fill="#ffffff" transform="rotate(-18 360.4 151.75)"/>
<rect x="360" y="154.55" width="3.4" height="3.4" rx="1.0" fill="#ffffff" transform="rotate(-18 361.7 156.25)"/>
<rect x="361.3" y="159.05" width="3.4" height="3.4" rx="1.0" fill="#ffffff" transform="rotate(-18 363 160.75)"/>
<rect x="362.6" y="163.55" width="3.4" height="3.4" rx="1.0" fill="#ffffff" transform="rotate(-18 364.3 165.25)"/>
<rect x="363.9" y="168.05" width="3.4" height="3.4" rx="1.0" fill="#ffffff" transform="rotate(-18 365.6 169.75)"/>
<rect x="365.2" y="172.55" width="3.4" height="3.4" rx="1.0" fill="#ffffff" transform="rotate(-18 366.9 174.25)"/>
<rect x="366.5" y="177.05" width="3.4" height="3.4" rx="1.0" fill="#ffffff" transform="rotate(-18 368.2 178.75)"/>
<rect x="367.8" y="181.55" width="3.4" height="3.4" rx="1.0" fill="#ffffff" transform="rotate(-18 369.5 183.25)"/>
<rect x="369.1" y="186.05" width="3.4" height="3.4" rx="1.0" fill="#ffffff" transform="rotate(-18 370.8 187.75)"/>
<rect x="370.4" y="190.55" width="3.4" height="3.4" rx="1.0" fill="#ffffff" transform="rotate(-18 372.1 192.25)"/>
<rect x="371.7" y="195.05" width="3.4" height="3.4" rx="1.0" fill="#ffffff" transform="rotate(-18 373.4 196.75)"/>
<rect x="373" y="199.55" width="3.4" height="3.4" rx="1.0" fill="#ffffff" transform="rotate(-18 374.7 201.25)"/>
<rect x="374.3" y="204.05" width="3.4" height="3.4" rx="1.0" fill="#ffffff" transform="rotate(-18 376 205.75)"/>
<rect x="375.6" y="208.55" width="3.4" height="3.4" rx="1.0" fill="#ffffff" transform="rotate(-18 377.3 210.25)"/>
<rect x="376.9" y="213.05" width="3.4" height="3.4" rx="1.0" fill="#ffffff" transform="rotate(-18 378.6 214.75)"/>
<rect x="378.2" y="217.55" width="3.4" height="3.4" rx="1.0" fill="#ffffff" transform="rotate(-18 379.9 219.25)"/>
<rect x="379.5" y="222.05" width="3.4" height="3.4" rx="1.0" fill="#ffffff" transform="rotate(-18 381.2 223.75)"/>
<rect x="380.8" y="226.55" width="3.4" height="3.4" rx="1.0" fill="#ffffff" transform="rotate(-18 382.5 228.25)"/>
<rect x="382.1" y="231.05" width="3.4" height="3.4" rx="1.0" fill="#ffffff" transform="rotate(-18 383.8 232.75)"/>
<rect x="383.4" y="235.55" width="3.4" height="3.4" rx="1.0" fill="#ffffff" transform="rotate(-18 385.1 237.25)"/>
<rect x="384.7" y="240.05" width="3.4" height="3.4" rx="1.0" fill="#ffffff" transform="rotate(-18 386.4 241.75)"/>
<rect x="352.8" y="112.45" width="3.4" height="3.4" rx="1.0" fill="#ffffff" transform="rotate(-18 354.5 114.15)"/>
<rect x="354.1" y="116.95" width="3.4" height="3.4" rx="1.0" fill="#ffffff" transform="rotate(-18 355.8 118.65)"/>
<rect x="355.4" y="121.45" width="3.4" height="3.4" rx="1.0" fill="#ffffff" transform="rotate(-18 357.1 123.15)"/>
<rect x="356.7" y="125.95" width="3.4" height="3.4" rx="1.0" fill="#ffffff" transform="rotate(-18 358.4 127.65)"/>
<rect x="358" y="130.45" width="3.4" height="3.4" rx="1.0" fill="#ffffff" transform="rotate(-18 359.7 132.15)"/>
<rect x="359.3" y="134.95" width="3.4" height="3.4" rx="1.0" fill="#ffffff" transform="rotate(-18 361 136.65)"/>
<rect x="360.6" y="139.45" width="3.4" height="3.4" rx="1.0" fill="#ffffff" transform="rotate(-18 362.3 141.15)"/>
<rect x="361.9" y="143.95" width="3.4" height="3.4" rx="1.0" fill="#ffffff" transform="rotate(-18 363.6 145.65)"/>
<rect x="363.2" y="148.45" width="3.4" height="3.4" rx="1.0" fill="#ffffff" transform="rotate(-18 364.9 150.15)"/>
<rect x="364.5" y="152.95" width="3.4" height="3.4" rx="1.0" fill="#ffffff" transform="rotate(-18 366.2 154.65)"/>
<rect x="365.8" y="157.45" width="3.4" height="3.4" rx="1.0" fill="#ffffff" transform="rotate(-18 367.5 159.15)"/>
<rect x="367.1" y="161.95" width="3.4" height="3.4" rx="1.0" fill="#ffffff" transform="rotate(-18 368.8 163.65)"/>
<rect x="368.4" y="166.45" width="3.4" height="3.4" rx="1.0" fill="#ffffff" transform="rotate(-18 370.1 168.15)"/>
<rect x="369.7" y="170.95" width="3.4" height="3.4" rx="1.0" fill="#ffffff" transform="rotate(-18 371.4 172.65)"/>
<rect x="371" y="175.45" width="3.4" height="3.4" rx="1.0" fill="#ffffff" transform="rotate(-18 372.7 177.15)"/>
<rect x="372.3" y="179.95" width="3.4" height="3.4" rx="1.0" fill="#ffffff" transform="rotate(-18 374 181.65)"/>
<rect x="373.6" y="184.45" width="3.4" height="3.4" rx="1.0" fill="#ffffff" transform="rotate(-18 375.3 186.15)"/>
<rect x="374.9" y="188.95" width="3.4" height="3.4" rx="1.0" fill="#ffffff" transform="rotate(-18 376.6 190.65)"/>
<rect x="376.2" y="193.45" width="3.4" height="3.4" rx="1.0" fill="#ffffff" transform="rotate(-18 377.9 195.15)"/>
<rect x="377.5" y="197.95" width="3.4" height="3.4" rx="1.0" fill="#ffffff" transform="rotate(-18 379.2 199.65)"/>
<rect x="378.8" y="202.45" width="3.4" height="3.4" rx="1.0" fill="#ffffff" transform="rotate(-18 380.5 204.15)"/>
<rect x="380.1" y="206.95" width="3.4" height="3.4" rx="1.0" fill="#ffffff" transform="rotate(-18 381.8 208.65)"/>
<rect x="381.4" y="211.45" width="3.4" height="3.4" rx="1.0" fill="#ffffff" transform="rotate(-18 383.1 213.15)"/>
<rect x="382.7" y="215.95" width="3.4" height="3.4" rx="1.0" fill="#ffffff" transform="rotate(-18 384.4 217.65)"/>
<rect x="384" y="220.45" width="3.4" height="3.4" rx="1.0" fill="#ffffff" transform="rotate(-18 385.7 222.15)"/>
<rect x="385.3" y="224.95" width="3.4" height="3.4" rx="1.0" fill="#ffffff" transform="rotate(-18 387 226.65)"/>
<rect x="386.6" y="229.45" width="3.4" height="3.4" rx="1.0" fill="#ffffff" transform="rotate(-18 388.3 231.15)"/>
<rect x="387.9" y="233.95" width="3.4" height="3.4" rx="1.0" fill="#ffffff" transform="rotate(-18 389.6 235.65)"/>
<rect x="389.2" y="238.45" width="3.4" height="3.4" rx="1.0" fill="#ffffff" transform="rotate(-18 390.9 240.15)"/>
<rect x="390.5" y="242.95" width="3.4" height="3.4" rx="1.0" fill="#ffffff" transform="rotate(-18 392.2 244.65)"/>
<rect x="357.3" y="110.85" width="3.4" height="3.4" rx="1.0" fill="#ffffff" transform="rotate(-18 359 112.55)"/>
<rect x="358.6" y="115.35" width="3.4" height="3.4" rx="1.0" fill="#ffffff" transform="rotate(-18 360.3 117.05)"/>
<rect x="359.9" y="119.85" width="3.4" height="3.4" rx="1.0" fill="#ffffff" transform="rotate(-18 361.6 121.55)"/>
<rect x="361.2" y="124.35" width="3.4" height="3.4" rx="1.0" fill="#ffffff" transform="rotate(-18 362.9 126.05)"/>
<rect x="362.5" y="128.85" width="3.4" height="3.4" rx="1.0" fill="#ffffff" transform="rotate(-18 364.2 130.55)"/>
<rect x="363.8" y="133.35" width="3.4" height="3.4" rx="1.0" fill="#ffffff" transform="rotate(-18 365.5 135.05)"/>
<rect x="365.1" y="137.85" width="3.4" height="3.4" rx="1.0" fill="#ffffff" transform="rotate(-18 366.8 139.55)"/>
<rect x="366.4" y="142.35" width="3.4" height="3.4" rx="1.0" fill="#ffffff" transform="rotate(-18 368.1 144.05)"/>
<rect x="367.7" y="146.85" width="3.4" height="3.4" rx="1.0" fill="#ffffff" transform="rotate(-18 369.4 148.55)"/>
<rect x="369" y="151.35" width="3.4" height="3.4" rx="1.0" fill="#ffffff" transform="rotate(-18 370.7 153.05)"/>
<rect x="370.3" y="155.85" width="3.4" height="3.4" rx="1.0" fill="#ffffff" transform="rotate(-18 372 157.55)"/>
<rect x="371.6" y="160.35" width="3.4" height="3.4" rx="1.0" fill="#ffffff" transform="rotate(-18 373.3 162.05)"/>
<rect x="372.9" y="164.85" width="3.4" height="3.4" rx="1.0" fill="#ffffff" transform="rotate(-18 374.6 166.55)"/>
<rect x="374.2" y="169.35" width="3.4" height="3.4" rx="1.0" fill="#ffffff" transform="rotate(-18 375.9 171.05)"/>
<rect x="375.5" y="173.85" width="3.4" height="3.4" rx="1.0" fill="#ffffff" transform="rotate(-18 377.2 175.55)"/>
<rect x="376.8" y="178.35" width="3.4" height="3.4" rx="1.0" fill="#ffffff" transform="rotate(-18 378.5 180.05)"/>
<rect x="378.1" y="182.85" width="3.4" height="3.4" rx="1.0" fill="#ffffff" transform="rotate(-18 379.8 184.55)"/>
<rect x="379.4" y="187.35" width="3.4" height="3.4" rx="1.0" fill="#ffffff" transform="rotate(-18 381.1 189.05)"/>
<rect x="380.7" y="191.85" width="3.4" height="3.4" rx="1.0" fill="#ffffff" transform="rotate(-18 382.4 193.55)"/>
<rect x="382" y="196.35" width="3.4" height="3.4" rx="1.0" fill="#ffffff" transform="rotate(-18 383.7 198.05)"/>
<rect x="383.3" y="200.85" width="3.4" height="3.4" rx="1.0" fill="#ffffff" transform="rotate(-18 385 202.55)"/>
<rect x="384.6" y="205.35" width="3.4" height="3.4" rx="1.0" fill="#ffffff" transform="rotate(-18 386.3 207.05)"/>
<rect x="385.9" y="209.85" width="3.4" height="3.4" rx="1.0" fill="#ffffff" transform="rotate(-18 387.6 211.55)"/>
<rect x="387.2" y="214.35" width="3.4" height="3.4" rx="1.0" fill="#ffffff" transform="rotate(-18 388.9 216.05)"/>
<rect x="388.5" y="218.85" width="3.4" height="3.4" rx="1.0" fill="#ffffff" transform="rotate(-18 390.2 220.55)"/>
<rect x="389.8" y="223.35" width="3.4" height="3.4" rx="1.0" fill="#ffffff" transform="rotate(-18 391.5 225.05)"/>
<rect x="391.1" y="227.85" width="3.4" height="3.4" rx="1.0" fill="#ffffff" transform="rotate(-18 392.8 229.55)"/>
<rect x="392.4" y="232.35" width="3.4" height="3.4" rx="1.0" fill="#ffffff" transform="rotate(-18 394.1 234.05)"/>
<rect x="393.7" y="236.85" width="3.4" height="3.4" rx="1.0" fill="#ffffff" transform="rotate(-18 395.4 238.55)"/>
<rect x="395" y="241.35" width="3.4" height="3.4" rx="1.0" fill="#ffffff" transform="rotate(-18 396.7 243.05)"/>
<rect x="365.7" y="122.75" width="3.4" height="3.4" rx="1.0" fill="#ffffff" transform="rotate(-18 367.4 124.45)"/>
<rect x="367" y="127.25" width="3.4" height="3.4" rx="1.0" fill="#ffffff" transform="rotate(-18 368.7 128.95)"/>
<rect x="368.3" y="131.75" width="3.4" height="3.4" rx="1.0" fill="#ffffff" transform="rotate(-18 370 133.45)"/>
<rect x="369.6" y="136.25" width="3.4" height="3.4" rx="1.0" fill="#ffffff" transform="rotate(-18 371.3 137.95)"/>
<rect x="370.9" y="140.75" width="3.4" height="3.4" rx="1.0" fill="#ffffff" transform="rotate(-18 372.6 142.45)"/>
<rect x="372.2" y="145.25" width="3.4" height="3.4" rx="1.0" fill="#ffffff" transform="rotate(-18 373.9 146.95)"/>
<rect x="373.5" y="149.75" width="3.4" height="3.4" rx="1.0" fill="#ffffff" transform="rotate(-18 375.2 151.45)"/>
<rect x="374.8" y="154.25" width="3.4" height="3.4" rx="1.0" fill="#ffffff" transform="rotate(-18 376.5 155.95)"/>
<rect x="376.1" y="158.75" width="3.4" height="3.4" rx="1.0" fill="#ffffff" transform="rotate(-18 377.8 160.45)"/>
<rect x="377.4" y="163.25" width="3.4" height="3.4" rx="1.0" fill="#ffffff" transform="rotate(-18 379.1 164.95)"/>
<rect x="378.7" y="167.75" width="3.4" height="3.4" rx="1.0" fill="#ffffff" transform="rotate(-18 380.4 169.45)"/>
<rect x="380" y="172.25" width="3.4" height="3.4" rx="1.0" fill="#ffffff" transform="rotate(-18 381.7 173.95)"/>
<rect x="381.3" y="176.75" width="3.4" height="3.4" rx="1.0" fill="#ffffff" transform="rotate(-18 383 178.45)"/>
<rect x="382.6" y="181.25" width="3.4" height="3.4" rx="1.0" fill="#ffffff" transform="rotate(-18 384.3 182.95)"/>
<rect x="383.9" y="185.75" width="3.4" height="3.4" rx="1.0" fill="#ffffff" transform="rotate(-18 385.6 187.45)"/>
<rect x="385.2" y="190.25" width="3.4" height="3.4" rx="1.0" fill="#ffffff" transform="rotate(-18 386.9 191.95)"/>
<rect x="386.5" y="194.75" width="3.4" height="3.4" rx="1.0" fill="#ffffff" transform="rotate(-18 388.2 196.45)"/>
<rect x="387.8" y="199.25" width="3.4" height="3.4" rx="1.0" fill="#ffffff" transform="rotate(-18 389.5 200.95)"/>
<rect x="389.1" y="203.75" width="3.4" height="3.4" rx="1.0" fill="#ffffff" transform="rotate(-18 390.8 205.45)"/>
<rect x="390.4" y="208.25" width="3.4" height="3.4" rx="1.0" fill="#ffffff" transform="rotate(-18 392.1 209.95)"/>
<rect x="391.7" y="212.75" width="3.4" height="3.4" rx="1.0" fill="#ffffff" transform="rotate(-18 393.4 214.45)"/>
<rect x="393" y="217.25" width="3.4" height="3.4" rx="1.0" fill="#ffffff" transform="rotate(-18 394.7 218.95)"/>
<rect x="394.3" y="221.75" width="3.4" height="3.4" rx="1.0" fill="#ffffff" transform="rotate(-18 396 223.45)"/>
<rect x="395.6" y="226.25" width="3.4" height="3.4" rx="1.0" fill="#ffffff" transform="rotate(-18 397.3 227.95)"/>
<rect x="396.9" y="230.75" width="3.4" height="3.4" rx="1.0" fill="#ffffff" transform="rotate(-18 398.6 232.45)"/>
<rect x="398.2" y="235.25" width="3.4" height="3.4" rx="1.0" fill="#ffffff" transform="rotate(-18 399.9 236.95)"/>
<rect x="399.5" y="239.75" width="3.4" height="3.4" rx="1.0" fill="#ffffff" transform="rotate(-18 401.2 241.45)"/>
<rect x="400.8" y="244.25" width="3.4" height="3.4" rx="1.0" fill="#ffffff" transform="rotate(-18 402.5 245.95)"/>
<rect x="396.2" y="211.15" width="3.4" height="3.4" rx="1.0" fill="#ffffff" transform="rotate(-18 397.9 212.85)"/>
<rect x="397.5" y="215.65" width="3.4" height="3.4" rx="1.0" fill="#ffffff" transform="rotate(-18 399.2 217.35)"/>
<rect x="398.8" y="220.15" width="3.4" height="3.4" rx="1.0" fill="#ffffff" transform="rotate(-18 400.5 221.85)"/>
<rect x="400.1" y="224.65" width="3.4" height="3.4" rx="1.0" fill="#ffffff" transform="rotate(-18 401.8 226.35)"/>
<rect x="401.4" y="229.15" width="3.4" height="3.4" rx="1.0" fill="#ffffff" transform="rotate(-18 403.1 230.85)"/>
<rect x="402.7" y="233.65" width="3.4" height="3.4" rx="1.0" fill="#ffffff" transform="rotate(-18 404.4 235.35)"/>
<rect x="404" y="238.15" width="3.4" height="3.4" rx="1.0" fill="#ffffff" transform="rotate(-18 405.7 239.85)"/>
<rect x="405.3" y="242.65" width="3.4" height="3.4" rx="1.0" fill="#ffffff" transform="rotate(-18 407 244.35)"/>
</g>
<g clip-path="url(#gripRL)">
<rect x="355" y="110" width="70" height="140" fill="#ffffff"/>
<path d="M355,114.15 L425,113.35" stroke="#9a88c0" stroke-width="1.3"/>
<path d="M355,113 L425,112.2" stroke="#262626" stroke-width="1.25"/>
<path d="M355,117.45 L425,116.65" stroke="#9a88c0" stroke-width="1.3"/>
<path d="M355,116.3 L425,115.5" stroke="#262626" stroke-width="1.25"/>
<path d="M355,120.75 L425,119.95" stroke="#9a88c0" stroke-width="1.3"/>
<path d="M355,119.6 L425,118.8" stroke="#262626" stroke-width="1.25"/>
<path d="M355,124.05 L425,123.25" stroke="#9a88c0" stroke-width="1.3"/>
<path d="M355,122.9 L425,122.1" stroke="#262626" stroke-width="1.25"/>
<path d="M355,127.35 L425,126.55" stroke="#9a88c0" stroke-width="1.3"/>
<path d="M355,126.2 L425,125.4" stroke="#262626" stroke-width="1.25"/>
<path d="M355,130.65 L425,129.85" stroke="#9a88c0" stroke-width="1.3"/>
<path d="M355,129.5 L425,128.7" stroke="#262626" stroke-width="1.25"/>
<path d="M355,133.95 L425,133.15" stroke="#9a88c0" stroke-width="1.3"/>
<path d="M355,132.8 L425,132" stroke="#262626" stroke-width="1.25"/>
<path d="M355,137.25 L425,136.45" stroke="#9a88c0" stroke-width="1.3"/>
<path d="M355,136.1 L425,135.3" stroke="#262626" stroke-width="1.25"/>
<path d="M355,140.55 L425,139.75" stroke="#9a88c0" stroke-width="1.3"/>
<path d="M355,139.4 L425,138.6" stroke="#262626" stroke-width="1.25"/>
<path d="M355,143.85 L425,143.05" stroke="#9a88c0" stroke-width="1.3"/>
<path d="M355,142.7 L425,141.9" stroke="#262626" stroke-width="1.25"/>
<path d="M355,147.15 L425,146.35" stroke="#9a88c0" stroke-width="1.3"/>
<path d="M355,146 L425,145.2" stroke="#262626" stroke-width="1.25"/>
<path d="M355,150.45 L425,149.65" stroke="#9a88c0" stroke-width="1.3"/>
<path d="M355,149.3 L425,148.5" stroke="#262626" stroke-width="1.25"/>
<path d="M355,153.75 L425,152.95" stroke="#9a88c0" stroke-width="1.3"/>
<path d="M355,152.6 L425,151.8" stroke="#262626" stroke-width="1.25"/>
<path d="M355,157.05 L425,156.25" stroke="#9a88c0" stroke-width="1.3"/>
<path d="M355,155.9 L425,155.1" stroke="#262626" stroke-width="1.25"/>
<path d="M355,160.35 L425,159.55" stroke="#9a88c0" stroke-width="1.3"/>
<path d="M355,159.2 L425,158.4" stroke="#262626" stroke-width="1.25"/>
<path d="M355,163.65 L425,162.85" stroke="#9a88c0" stroke-width="1.3"/>
<path d="M355,162.5 L425,161.7" stroke="#262626" stroke-width="1.25"/>
<path d="M355,166.95 L425,166.15" stroke="#9a88c0" stroke-width="1.3"/>
<path d="M355,165.8 L425,165" stroke="#262626" stroke-width="1.25"/>
<path d="M355,170.25 L425,169.45" stroke="#9a88c0" stroke-width="1.3"/>
<path d="M355,169.1 L425,168.3" stroke="#262626" stroke-width="1.25"/>
<path d="M355,173.55 L425,172.75" stroke="#9a88c0" stroke-width="1.3"/>
<path d="M355,172.4 L425,171.6" stroke="#262626" stroke-width="1.25"/>
<path d="M355,176.85 L425,176.05" stroke="#9a88c0" stroke-width="1.3"/>
<path d="M355,175.7 L425,174.9" stroke="#262626" stroke-width="1.25"/>
<path d="M355,180.15 L425,179.35" stroke="#9a88c0" stroke-width="1.3"/>
<path d="M355,179 L425,178.2" stroke="#262626" stroke-width="1.25"/>
<path d="M355,183.45 L425,182.65" stroke="#9a88c0" stroke-width="1.3"/>
<path d="M355,182.3 L425,181.5" stroke="#262626" stroke-width="1.25"/>
<path d="M355,186.75 L425,185.95" stroke="#9a88c0" stroke-width="1.3"/>
<path d="M355,185.6 L425,184.8" stroke="#262626" stroke-width="1.25"/>
<path d="M355,190.05 L425,189.25" stroke="#9a88c0" stroke-width="1.3"/>
<path d="M355,188.9 L425,188.1" stroke="#262626" stroke-width="1.25"/>
<path d="M355,193.35 L425,192.55" stroke="#9a88c0" stroke-width="1.3"/>
<path d="M355,192.2 L425,191.4" stroke="#262626" stroke-width="1.25"/>
<path d="M355,196.65 L425,195.85" stroke="#9a88c0" stroke-width="1.3"/>
<path d="M355,195.5 L425,194.7" stroke="#262626" stroke-width="1.25"/>
<path d="M355,199.95 L425,199.15" stroke="#9a88c0" stroke-width="1.3"/>
<path d="M355,198.8 L425,198" stroke="#262626" stroke-width="1.25"/>
<path d="M355,203.25 L425,202.45" stroke="#9a88c0" stroke-width="1.3"/>
<path d="M355,202.1 L425,201.3" stroke="#262626" stroke-width="1.25"/>
<path d="M355,206.55 L425,205.75" stroke="#9a88c0" stroke-width="1.3"/>
<path d="M355,205.4 L425,204.6" stroke="#262626" stroke-width="1.25"/>
<path d="M355,209.85 L425,209.05" stroke="#9a88c0" stroke-width="1.3"/>
<path d="M355,208.7 L425,207.9" stroke="#262626" stroke-width="1.25"/>
<path d="M355,213.15 L425,212.35" stroke="#9a88c0" stroke-width="1.3"/>
<path d="M355,212 L425,211.2" stroke="#262626" stroke-width="1.25"/>
<path d="M355,216.45 L425,215.65" stroke="#9a88c0" stroke-width="1.3"/>
<path d="M355,215.3 L425,214.5" stroke="#262626" stroke-width="1.25"/>
<path d="M355,219.75 L425,218.95" stroke="#9a88c0" stroke-width="1.3"/>
<path d="M355,218.6 L425,217.8" stroke="#262626" stroke-width="1.25"/>
<path d="M355,223.05 L425,222.25" stroke="#9a88c0" stroke-width="1.3"/>
<path d="M355,221.9 L425,221.1" stroke="#262626" stroke-width="1.25"/>
<path d="M355,226.35 L425,225.55" stroke="#9a88c0" stroke-width="1.3"/>
<path d="M355,225.2 L425,224.4" stroke="#262626" stroke-width="1.25"/>
<path d="M355,229.65 L425,228.85" stroke="#9a88c0" stroke-width="1.3"/>
<path d="M355,228.5 L425,227.7" stroke="#262626" stroke-width="1.25"/>
<path d="M355,232.95 L425,232.15" stroke="#9a88c0" stroke-width="1.3"/>
<path d="M355,231.8 L425,231" stroke="#262626" stroke-width="1.25"/>
<path d="M355,236.25 L425,235.45" stroke="#9a88c0" stroke-width="1.3"/>
<path d="M355,235.1 L425,234.3" stroke="#262626" stroke-width="1.25"/>
<path d="M355,239.55 L425,238.75" stroke="#9a88c0" stroke-width="1.3"/>
<path d="M355,238.4 L425,237.6" stroke="#262626" stroke-width="1.25"/>
</g>
<line x1="340.99" y1="121" x2="375.67" y2="240.6" stroke="#555" stroke-width="0.854" />
<line x1="362.6" y1="119" x2="403.38" y2="237.2" stroke="#555" stroke-width="0.854" />
<path d="M333.2,124 L339.4,119.9 L372.4,118.9 L415.3,234.6 L365.2,241.4Z" stroke="#323232" stroke-width="1.098" fill="none" />
<circle cx="355" cy="133" r="3.9" fill="#ffffff" stroke="#444" stroke-width="0.8"/>
<circle cx="355" cy="133" r="1.3" fill="#b0b0b0" stroke="#0c0c0c" stroke-width="1.45"/>
<circle cx="386.6" cy="222" r="3.9" fill="#ffffff" stroke="#444" stroke-width="0.8"/>
<circle cx="386.6" cy="222" r="1.3" fill="#b0b0b0" stroke="#0c0c0c" stroke-width="1.45"/>
<path d="M337,142.3 L345.6,144.4 L355.4,154 L354.4,157 L343.6,160.6Z" stroke="#555" stroke-width="0.732" fill="#f8f8f8" />
<rect x="290" y="114.6" width="26.8" height="8.2" rx="4" fill="#f6f6f6" stroke="#9878c6" stroke-width="0.7"/>
<line x1="313.5" y1="115" x2="313.5" y2="122.4" stroke="#9878c6" stroke-width="0.732" />
<line x1="293" y1="114.2" x2="314" y2="114.2" stroke="#888" stroke-width="0.976" />
<path d="M314,114.2 L324.6,114.2 L325.4,112.2 L332.6,112.2 L333.2,118.7 L318.4,118.7 L314,116.2Z" stroke="#111" stroke-width="0.61" fill="#111" />
<rect x="317" y="118.7" width="15.4" height="3.4" rx="1.4" fill="#fafafa" stroke="#888" stroke-width="0.5"/>
<circle cx="331.6" cy="152.9" r="4.7" fill="#111"/>
<path d="M386.5,122 C390,121.4 394,122 397,124 C400,125.6 403,125 404.5,123.9 C406.5,125 407.4,126.6 407.1,127.8 C406.6,130.4 405.6,131.8 403.8,132.4 C401.6,131.4 399.6,131.2 398,131.7 C396,133.6 394,135.4 392.1,136.3 C389.4,137.8 386.6,138.6 384.3,138.2 C381.6,137.4 380.4,136 379.8,134.3 L377.6,122" stroke="#323232" stroke-width="1.098" fill="#f7f7f7" />
<path d="M383,135 C387,131 392,127.6 398,125.2" stroke="#323232" stroke-width="0.732" fill="none" />
<path d="M398,131.7 C401,133 404,132.6 406,130 C407.6,128 408,125.6 406.8,124" stroke="#6a3fa6" stroke-width="0.976" fill="none" />
<path d="M356.6,116.1 L376,115.6 C380.4,116 384.4,118.6 386.6,122" stroke="#1a1a1a" stroke-width="1.6" fill="none" />
<path d="M357,117.5 L375,117.3" stroke="#6a3fa6" stroke-width="1.342" fill="none" />
<path d="M376,118.4 L379,122.4 M378,118 L381.6,122.8 M380.4,118.6 L383.6,123 M382.6,120 L385.4,123.4" stroke="#6a3fa6" stroke-width="0.976" fill="none" />
<path d="M378,108.6 L379.4,107.4 L381.4,107.6 L383.2,111" stroke="#323232" stroke-width="0.854" fill="none" />
<path d="M394.4,113.8 C395,116.4 397,118.6 400,120.2 C403,121.8 405.6,123 407.6,123.6 C413,125.4 419,124.8 424,121.5 C426.6,119.8 428.4,118 429.5,116.4" stroke="#323232" stroke-width="1.403" fill="none" />
<path d="M429.5,116.4 C428.6,119.4 426.5,122.6 423.6,124.6 C419.5,127.4 414,128.6 409.4,127.4" stroke="#323232" stroke-width="1.342" fill="none" />
<path d="M428.6,117.8 C425.8,121.2 421.8,124.6 417.4,126.4" stroke="#9878c6" stroke-width="0.61" fill="none" />
<path d="M408.6,123.8 L409.6,127.6 L411,129.4 C414,130.2 418,129.8 421,128.2" stroke="#323232" stroke-width="0.854" fill="none" />
</g>
<g id="gunBot" transform="translate(590,240) scale(-1,1)">
<path d="M164.4,80.7 L349.5,82" stroke="#5e5e5e" stroke-width="1.037" fill="none" />
<line x1="164.4" y1="80.7" x2="164.4" y2="110.1" stroke="#323232" stroke-width="1.098" />
<line x1="164.4" y1="88.9" x2="187.6" y2="89.1" stroke="#323232" stroke-width="0.976" />
<line x1="229" y1="89.4" x2="275.4" y2="89.8" stroke="#323232" stroke-width="0.976" />
<path d="M162.8,110.1 L245,110.3 L345,112.6 L376,113.3" stroke="#2a2a2a" stroke-width="1.586" fill="none" />
<path d="M376,113.3 L394.4,113.8" stroke="#323232" stroke-width="1.098" fill="none" />
<path d="M390.6,89.6 L392.4,100 L394.4,113.8" stroke="#2a2a2a" stroke-width="1.586" fill="none" />
<path d="M165,80.5 L165,76.9 L166.7,75.6 L172.5,77.7 L178,77.7 L183,74.6 L183.8,74.6 L183.8,80.5Z" stroke="#323232" stroke-width="0.976" fill="#fbfbfb" />
<rect x="169.5" y="80.5" width="9.5" height="1.8" fill="#e4e4e4" stroke="#323232" stroke-width="0.7"/>
<circle cx="175.2" cy="77.0" r="0.5" fill="#333"/>
<rect x="160.7" y="83.3" width="3.7" height="22.7" fill="none" stroke="#777" stroke-width="0.7"/>
<line x1="161.8" y1="84.2" x2="161.8" y2="105.2" stroke="#b9a9d2" stroke-width="0.671" />
<path d="M193.52,110.16 L186.95,87.8 Q186.6,86.7 187.6,86.7 L191.3,86.7 Q192.3,86.7 192.65,87.8 L199.22,110.16" stroke="#323232" stroke-width="0.976" fill="#f6f6f6" />
<line x1="191.45" y1="87.8" x2="198.02" y2="110.16" stroke="#5a5a5a" stroke-width="0.549" />
<path d="M202.03,110.18 L195.45,87.8 Q195.1,86.7 196.1,86.7 L199.8,86.7 Q200.8,86.7 201.15,87.8 L207.73,110.18" stroke="#323232" stroke-width="0.976" fill="#f6f6f6" />
<line x1="199.95" y1="87.8" x2="206.53" y2="110.18" stroke="#5a5a5a" stroke-width="0.549" />
<path d="M210.53,110.2 L203.95,87.8 Q203.6,86.7 204.6,86.7 L208.3,86.7 Q209.3,86.7 209.65,87.8 L216.23,110.2" stroke="#323232" stroke-width="0.976" fill="#f6f6f6" />
<line x1="208.45" y1="87.8" x2="215.03" y2="110.2" stroke="#5a5a5a" stroke-width="0.549" />
<path d="M219.04,110.22 L212.45,87.8 Q212.1,86.7 213.1,86.7 L216.8,86.7 Q217.8,86.7 218.15,87.8 L224.74,110.22" stroke="#323232" stroke-width="0.976" fill="#f6f6f6" />
<line x1="216.95" y1="87.8" x2="223.54" y2="110.22" stroke="#5a5a5a" stroke-width="0.549" />
<path d="M227.54,110.24 L220.95,87.8 Q220.6,86.7 221.6,86.7 L225.3,86.7 Q226.3,86.7 226.65,87.8 L233.24,110.24" stroke="#323232" stroke-width="0.976" fill="#f6f6f6" />
<line x1="225.45" y1="87.8" x2="232.04" y2="110.24" stroke="#5a5a5a" stroke-width="0.549" />
<path d="M326.78,112.01 L319.75,88.5 Q319.4,87.4 320.4,87.4 L324.1,87.4 Q325.1,87.4 325.45,88.5 L332.48,112.01" stroke="#323232" stroke-width="0.976" fill="#f6f6f6" />
<line x1="324.25" y1="88.5" x2="331.28" y2="112.01" stroke="#5a5a5a" stroke-width="0.549" />
<path d="M335.5,112.21 L328.41,88.5 Q328.06,87.4 329.06,87.4 L332.76,87.4 Q333.76,87.4 334.11,88.5 L341.2,112.21" stroke="#323232" stroke-width="0.976" fill="#f6f6f6" />
<line x1="332.91" y1="88.5" x2="340" y2="112.21" stroke="#5a5a5a" stroke-width="0.549" />
<path d="M344.22,112.41 L337.07,88.5 Q336.72,87.4 337.72,87.4 L341.42,87.4 Q342.42,87.4 342.77,88.5 L349.92,112.41" stroke="#323232" stroke-width="0.976" fill="#f6f6f6" />
<line x1="341.57" y1="88.5" x2="348.72" y2="112.41" stroke="#5a5a5a" stroke-width="0.549" />
<path d="M352.94,112.61 L345.73,88.5 Q345.38,87.4 346.38,87.4 L350.08,87.4 Q351.08,87.4 351.43,88.5 L358.64,112.61" stroke="#323232" stroke-width="0.976" fill="#f6f6f6" />
<line x1="350.23" y1="88.5" x2="357.44" y2="112.61" stroke="#5a5a5a" stroke-width="0.549" />
<path d="M361.66,112.81 L354.39,88.5 Q354.04,87.4 355.04,87.4 L358.74,87.4 Q359.74,87.4 360.09,88.5 L367.36,112.81" stroke="#323232" stroke-width="0.976" fill="#f6f6f6" />
<line x1="358.89" y1="88.5" x2="366.16" y2="112.81" stroke="#5a5a5a" stroke-width="0.549" />
<path d="M370.38,113.01 L363.05,88.5 Q362.7,87.4 363.7,87.4 L367.4,87.4 Q368.4,87.4 368.75,88.5 L376.08,113.01" stroke="#323232" stroke-width="0.976" fill="#f6f6f6" />
<line x1="367.55" y1="88.5" x2="374.88" y2="113.01" stroke="#5a5a5a" stroke-width="0.549" />
<rect x="349.5" y="81.4" width="8.8" height="5.2" fill="#f6f6f6" stroke="#323232" stroke-width="0.8"/>
<line x1="354" y1="81.5" x2="389" y2="81.7" stroke="#9878c6" stroke-width="0.854" />
<path d="M358.3,86.9 L366.8,86.9" stroke="#323232" stroke-width="0.976" fill="none" />
<path d="M368.6,89.6 L390.6,89.6" stroke="#323232" stroke-width="0.976" fill="none" />
<path d="M378.5,81.7 L378.5,89.6" stroke="#323232" stroke-width="0.976" fill="none" />
<path d="M378.5,82.2 L387.3,82.2" stroke="#323232" stroke-width="0.854" fill="none" />
<path d="M387.3,89.6 L387.3,78.6 L389.2,78.2 L391.8,77.3 L391.8,89.6Z" stroke="#323232" stroke-width="0.976" fill="#fbfbfb" />
<line x1="389.4" y1="79" x2="389.4" y2="89" stroke="#323232" stroke-width="0.732" />
<circle cx="384" cy="85.8" r="2.9" fill="#fbfbfb" stroke="#151515" stroke-width="1.2"/>
<path d="M393.2,95 C394.2,93.6 395.8,92.8 397.2,92.7 L402.2,93 C404,93.3 404.4,94.8 404,96 C403.6,97.8 403,98.6 401.6,99.4 L395.4,103.2 C394.3,103.8 393.4,102.6 393.2,101.2" stroke="#2a2a2a" stroke-width="2.5" fill="none" />
<path d="M393.2,95 C394.2,93.6 395.8,92.8 397.2,92.7 L402.2,93 C404,93.3 404.4,94.8 404,96 C403.6,97.8 403,98.6 401.6,99.4 L395.4,103.2 C394.3,103.8 393.4,102.6 393.2,101.2" stroke="#eeeeee" stroke-width="0.854" fill="none" />
<path d="M162.8,110.1 L162.8,124.2 L213.6,124.2" stroke="#323232" stroke-width="1.098" fill="none" />
<line x1="163.9" y1="110.4" x2="163.9" y2="119.5" stroke="#2a2a2a" stroke-width="1.22" />
<path d="M165.5,112.6 C166.5,113.8 167.5,113.9 169,113.9 L213.6,114.4" stroke="#9878c6" stroke-width="0.732" fill="none" />
<path d="M213.6,127.2 L213.6,112.6 Q213.6,111.1 215.2,111.1" stroke="#323232" stroke-width="1.098" fill="none" />
<path d="M213.6,127.2 L264,127.6" stroke="#323232" stroke-width="1.098" fill="none" />
<path d="M214,119 L264.2,119.3" stroke="#323232" stroke-width="0.976" fill="none" />
<line x1="264.2" y1="119.5" x2="264.2" y2="127.4" stroke="#9878c6" stroke-width="0.732" />
<path d="M264.2,119.3 C268.5,119.6 272,123.4 273.7,127.6 C275.8,133 275.4,140.5 276.4,146.8 C277.6,154.6 282.4,161.8 292,163.4 L312,163.4 C318.6,163.2 323,160.4 325.6,156.4" stroke="#323232" stroke-width="1.098" fill="none" />
<path d="M264,127.6 C268.5,127.8 272,129.6 273.6,133.6" stroke="#323232" stroke-width="0.976" fill="none" />
<path d="M277.2,139 C276.6,147 279.6,157.6 291.4,161.8 L311.6,161.8 C316.4,161.6 320.6,159.4 322.8,156.2" stroke="#323232" stroke-width="0.854" fill="none" />
<path d="M303.2,131.1 L293,131.1 C284.4,131.4 278.6,137.6 278.6,145.6 C278.6,153.8 284.6,160 293,160.2 L303.4,160.2" stroke="#323232" stroke-width="1.098" fill="none" />
<path d="M303,132.8 L293.4,132.8 C285.6,133 280.4,138.6 280.4,145.6 C280.4,152.8 285.8,158.4 293.4,158.6 L303,158.6" stroke="#666" stroke-width="0.732" fill="none" />
<path d="M270.6,128.9 L294,129.2" stroke="#323232" stroke-width="0.854" fill="none" />
<path d="M303.6,131 A20.3,20.3 0 0 1 303.6,160.2" stroke="#3d2b62" stroke-width="1.7" fill="none" />
<path d="M305.4,131 A21,21 0 0 1 305.6,160.2" stroke="#6a3fa6" stroke-width="0.976" fill="none" />
<path d="M302.8,131 L313,131 C318.4,135 320.8,140.6 320.8,145.8 C320.8,151 318.8,156.4 314.2,160.2 L302.8,160.2" stroke="#555" stroke-width="0.976" fill="none" />
<rect x="309.2" y="133.3" width="4.8" height="6.2" rx="1.4" fill="none" stroke="#3d2b62" stroke-width="1.2" transform="rotate(12 311.6 136.4)"/>
<rect x="311" y="142.5" width="4.8" height="6.2" rx="1.4" fill="none" stroke="#3d2b62" stroke-width="1.2" transform="rotate(0 313.4 145.6)"/>
<rect x="309.2" y="151.7" width="4.8" height="6.2" rx="1.4" fill="none" stroke="#3d2b62" stroke-width="1.2" transform="rotate(-12 311.6 154.8)"/>
<rect x="293.9" y="124.9" width="14" height="5.8" fill="none" stroke="#a58bc9" stroke-width="0.5"/>
<path d="M307.9,125.3 C314,125.4 320.7,127.6 325,132.4 C328.6,136.6 330.4,142.6 329.6,147.6" stroke="#323232" stroke-width="0.976" fill="none" />
<path d="M310.6,126.8 C316,127.4 321,130 324,134.4 C326.6,138.4 327.6,143.6 326.8,149.6" stroke="#323232" stroke-width="0.854" fill="none" />
<path d="M325.6,156.4 C324,158.6 322,160.2 320,160.6 C324,160.8 327,162 329.4,164.2 C331.6,166.2 333.6,168.2 335,170.6 L357.6,238.6 L364,241.8" stroke="#323232" stroke-width="1.098" fill="none" />
<path d="M324,157 C327,159 331,160.4 333.6,162 C337,164 341,167.4 344,169.4" stroke="#323232" stroke-width="0.854" fill="none" />
<path d="M337.4,170.2 L360.2,239.6" stroke="#555" stroke-width="0.854" fill="none" />
<path d="M331.4,122.6 L335,170.6 L357.6,238.6 L364,241.8 L364,241.6 L332.6,124Z" stroke="none" stroke-width="0" fill="#f9f9f9" />
<path d="M364,241.6 L375.2,247.3 L385.3,247.3 L415,241 L423,239.7 L421.8,234" stroke="#323232" stroke-width="1.098" fill="#f8f8f8" />
<path d="M364.6,242.6 L376,246 L385,246 L414.6,239.8" stroke="#9878c6" stroke-width="0.61" fill="none" />
<line x1="415" y1="241" x2="414.4" y2="235.4" stroke="#323232" stroke-width="0.854" />
<path d="M392.1,136.3 C388,139.5 385.2,144.5 385,149.9 C385.2,154 387,158 388.2,160.3 L398,177.2" stroke="#323232" stroke-width="0.976" fill="none" />
<path d="M394,137 C390,140.4 387.4,145 387.2,150 C387.4,154 389,157.4 390.4,160 L416.4,233.4" stroke="#555" stroke-width="0.854" fill="none" />
<path d="M402.5,133 C398,134.5 394,139 392.8,143.4 C392,148 392.4,151 393.4,153.8 C394.4,156.6 395.6,158.4 397.3,160.3 L400.6,162.9 L404.5,173.3 L400.6,174.6 L397.2,164.6" stroke="#323232" stroke-width="0.976" fill="none" />
<path d="M394.6,166 L418.8,232.8" stroke="#555" stroke-width="0.854" fill="none" />
<path d="M399.8,176.6 L422,232.4" stroke="#0c0c0c" stroke-width="3.2" fill="none" />
<path d="M421.8,234 L422.6,231" stroke="#323232" stroke-width="0.854" fill="none" />
<defs>
<clipPath id="gripLR"><path d="M333.2,124 L339.4,119.9 L340.47,119.2 L375.67,240.6 L365.2,241.4Z"/></clipPath>
<clipPath id="gripCR"><path d="M340.41,119 L362.54,118.8 L403.38,237.2 L375.67,240.6Z"/></clipPath>
<clipPath id="gripRR"><path d="M362.54,118.8 L372.4,118.9 L415.3,234.6 L403.38,237.2Z"/></clipPath>
</defs>
<path d="M333.2,124 L339.4,119.9 L372.4,118.9 L415.3,234.6 L365.2,241.4Z" stroke="none" stroke-width="0" fill="#ffffff" />
<g clip-path="url(#gripLR)">
<rect x="325" y="110" width="60" height="140" fill="#ffffff"/>
<path d="M325,113.05 L385,75.85" stroke="#9a88c0" stroke-width="1.2"/>
<path d="M325,112 L385,74.8" stroke="#262626" stroke-width="1.2"/>
<path d="M325,116.05 L385,78.85" stroke="#9a88c0" stroke-width="1.2"/>
<path d="M325,115 L385,77.8" stroke="#262626" stroke-width="1.2"/>
<path d="M325,119.05 L385,81.85" stroke="#9a88c0" stroke-width="1.2"/>
<path d="M325,118 L385,80.8" stroke="#262626" stroke-width="1.2"/>
<path d="M325,122.05 L385,84.85" stroke="#9a88c0" stroke-width="1.2"/>
<path d="M325,121 L385,83.8" stroke="#262626" stroke-width="1.2"/>
<path d="M325,125.05 L385,87.85" stroke="#9a88c0" stroke-width="1.2"/>
<path d="M325,124 L385,86.8" stroke="#262626" stroke-width="1.2"/>
<path d="M325,128.05 L385,90.85" stroke="#9a88c0" stroke-width="1.2"/>
<path d="M325,127 L385,89.8" stroke="#262626" stroke-width="1.2"/>
<path d="M325,131.05 L385,93.85" stroke="#9a88c0" stroke-width="1.2"/>
<path d="M325,130 L385,92.8" stroke="#262626" stroke-width="1.2"/>
<path d="M325,134.05 L385,96.85" stroke="#9a88c0" stroke-width="1.2"/>
<path d="M325,133 L385,95.8" stroke="#262626" stroke-width="1.2"/>
<path d="M325,137.05 L385,99.85" stroke="#9a88c0" stroke-width="1.2"/>
<path d="M325,136 L385,98.8" stroke="#262626" stroke-width="1.2"/>
<path d="M325,140.05 L385,102.85" stroke="#9a88c0" stroke-width="1.2"/>
<path d="M325,139 L385,101.8" stroke="#262626" stroke-width="1.2"/>
<path d="M325,143.05 L385,105.85" stroke="#9a88c0" stroke-width="1.2"/>
<path d="M325,142 L385,104.8" stroke="#262626" stroke-width="1.2"/>
<path d="M325,146.05 L385,108.85" stroke="#9a88c0" stroke-width="1.2"/>
<path d="M325,145 L385,107.8" stroke="#262626" stroke-width="1.2"/>
<path d="M325,149.05 L385,111.85" stroke="#9a88c0" stroke-width="1.2"/>
<path d="M325,148 L385,110.8" stroke="#262626" stroke-width="1.2"/>
<path d="M325,152.05 L385,114.85" stroke="#9a88c0" stroke-width="1.2"/>
<path d="M325,151 L385,113.8" stroke="#262626" stroke-width="1.2"/>
<path d="M325,155.05 L385,117.85" stroke="#9a88c0" stroke-width="1.2"/>
<path d="M325,154 L385,116.8" stroke="#262626" stroke-width="1.2"/>
<path d="M325,158.05 L385,120.85" stroke="#9a88c0" stroke-width="1.2"/>
<path d="M325,157 L385,119.8" stroke="#262626" stroke-width="1.2"/>
<path d="M325,161.05 L385,123.85" stroke="#9a88c0" stroke-width="1.2"/>
<path d="M325,160 L385,122.8" stroke="#262626" stroke-width="1.2"/>
<path d="M325,164.05 L385,126.85" stroke="#9a88c0" stroke-width="1.2"/>
<path d="M325,163 L385,125.8" stroke="#262626" stroke-width="1.2"/>
<path d="M325,167.05 L385,129.85" stroke="#9a88c0" stroke-width="1.2"/>
<path d="M325,166 L385,128.8" stroke="#262626" stroke-width="1.2"/>
<path d="M325,170.05 L385,132.85" stroke="#9a88c0" stroke-width="1.2"/>
<path d="M325,169 L385,131.8" stroke="#262626" stroke-width="1.2"/>
<path d="M325,173.05 L385,135.85" stroke="#9a88c0" stroke-width="1.2"/>
<path d="M325,172 L385,134.8" stroke="#262626" stroke-width="1.2"/>
<path d="M325,176.05 L385,138.85" stroke="#9a88c0" stroke-width="1.2"/>
<path d="M325,175 L385,137.8" stroke="#262626" stroke-width="1.2"/>
<path d="M325,179.05 L385,141.85" stroke="#9a88c0" stroke-width="1.2"/>
<path d="M325,178 L385,140.8" stroke="#262626" stroke-width="1.2"/>
<path d="M325,182.05 L385,144.85" stroke="#9a88c0" stroke-width="1.2"/>
<path d="M325,181 L385,143.8" stroke="#262626" stroke-width="1.2"/>
<path d="M325,185.05 L385,147.85" stroke="#9a88c0" stroke-width="1.2"/>
<path d="M325,184 L385,146.8" stroke="#262626" stroke-width="1.2"/>
<path d="M325,188.05 L385,150.85" stroke="#9a88c0" stroke-width="1.2"/>
<path d="M325,187 L385,149.8" stroke="#262626" stroke-width="1.2"/>
<path d="M325,191.05 L385,153.85" stroke="#9a88c0" stroke-width="1.2"/>
<path d="M325,190 L385,152.8" stroke="#262626" stroke-width="1.2"/>
<path d="M325,194.05 L385,156.85" stroke="#9a88c0" stroke-width="1.2"/>
<path d="M325,193 L385,155.8" stroke="#262626" stroke-width="1.2"/>
<path d="M325,197.05 L385,159.85" stroke="#9a88c0" stroke-width="1.2"/>
<path d="M325,196 L385,158.8" stroke="#262626" stroke-width="1.2"/>
<path d="M325,200.05 L385,162.85" stroke="#9a88c0" stroke-width="1.2"/>
<path d="M325,199 L385,161.8" stroke="#262626" stroke-width="1.2"/>
<path d="M325,203.05 L385,165.85" stroke="#9a88c0" stroke-width="1.2"/>
<path d="M325,202 L385,164.8" stroke="#262626" stroke-width="1.2"/>
<path d="M325,206.05 L385,168.85" stroke="#9a88c0" stroke-width="1.2"/>
<path d="M325,205 L385,167.8" stroke="#262626" stroke-width="1.2"/>
<path d="M325,209.05 L385,171.85" stroke="#9a88c0" stroke-width="1.2"/>
<path d="M325,208 L385,170.8" stroke="#262626" stroke-width="1.2"/>
<path d="M325,212.05 L385,174.85" stroke="#9a88c0" stroke-width="1.2"/>
<path d="M325,211 L385,173.8" stroke="#262626" stroke-width="1.2"/>
<path d="M325,215.05 L385,177.85" stroke="#9a88c0" stroke-width="1.2"/>
<path d="M325,214 L385,176.8" stroke="#262626" stroke-width="1.2"/>
<path d="M325,218.05 L385,180.85" stroke="#9a88c0" stroke-width="1.2"/>
<path d="M325,217 L385,179.8" stroke="#262626" stroke-width="1.2"/>
<path d="M325,221.05 L385,183.85" stroke="#9a88c0" stroke-width="1.2"/>
<path d="M325,220 L385,182.8" stroke="#262626" stroke-width="1.2"/>
<path d="M325,224.05 L385,186.85" stroke="#9a88c0" stroke-width="1.2"/>
<path d="M325,223 L385,185.8" stroke="#262626" stroke-width="1.2"/>
<path d="M325,227.05 L385,189.85" stroke="#9a88c0" stroke-width="1.2"/>
<path d="M325,226 L385,188.8" stroke="#262626" stroke-width="1.2"/>
<path d="M325,230.05 L385,192.85" stroke="#9a88c0" stroke-width="1.2"/>
<path d="M325,229 L385,191.8" stroke="#262626" stroke-width="1.2"/>
<path d="M325,233.05 L385,195.85" stroke="#9a88c0" stroke-width="1.2"/>
<path d="M325,232 L385,194.8" stroke="#262626" stroke-width="1.2"/>
<path d="M325,236.05 L385,198.85" stroke="#9a88c0" stroke-width="1.2"/>
<path d="M325,235 L385,197.8" stroke="#262626" stroke-width="1.2"/>
<path d="M325,239.05 L385,201.85" stroke="#9a88c0" stroke-width="1.2"/>
<path d="M325,238 L385,200.8" stroke="#262626" stroke-width="1.2"/>
<path d="M325,242.05 L385,204.85" stroke="#9a88c0" stroke-width="1.2"/>
<path d="M325,241 L385,203.8" stroke="#262626" stroke-width="1.2"/>
<path d="M325,245.05 L385,207.85" stroke="#9a88c0" stroke-width="1.2"/>
<path d="M325,244 L385,206.8" stroke="#262626" stroke-width="1.2"/>
<path d="M325,248.05 L385,210.85" stroke="#9a88c0" stroke-width="1.2"/>
<path d="M325,247 L385,209.8" stroke="#262626" stroke-width="1.2"/>
<path d="M325,251.05 L385,213.85" stroke="#9a88c0" stroke-width="1.2"/>
<path d="M325,250 L385,212.8" stroke="#262626" stroke-width="1.2"/>
<path d="M325,254.05 L385,216.85" stroke="#9a88c0" stroke-width="1.2"/>
<path d="M325,253 L385,215.8" stroke="#262626" stroke-width="1.2"/>
<path d="M325,257.05 L385,219.85" stroke="#9a88c0" stroke-width="1.2"/>
<path d="M325,256 L385,218.8" stroke="#262626" stroke-width="1.2"/>
<path d="M325,260.05 L385,222.85" stroke="#9a88c0" stroke-width="1.2"/>
<path d="M325,259 L385,221.8" stroke="#262626" stroke-width="1.2"/>
<path d="M325,263.05 L385,225.85" stroke="#9a88c0" stroke-width="1.2"/>
<path d="M325,262 L385,224.8" stroke="#262626" stroke-width="1.2"/>
<path d="M325,266.05 L385,228.85" stroke="#9a88c0" stroke-width="1.2"/>
<path d="M325,265 L385,227.8" stroke="#262626" stroke-width="1.2"/>
<path d="M325,269.05 L385,231.85" stroke="#9a88c0" stroke-width="1.2"/>
<path d="M325,268 L385,230.8" stroke="#262626" stroke-width="1.2"/>
<path d="M325,272.05 L385,234.85" stroke="#9a88c0" stroke-width="1.2"/>
<path d="M325,271 L385,233.8" stroke="#262626" stroke-width="1.2"/>
<path d="M325,275.05 L385,237.85" stroke="#9a88c0" stroke-width="1.2"/>
<path d="M325,274 L385,236.8" stroke="#262626" stroke-width="1.2"/>
<path d="M325,278.05 L385,240.85" stroke="#9a88c0" stroke-width="1.2"/>
<path d="M325,277 L385,239.8" stroke="#262626" stroke-width="1.2"/>
<path d="M325,281.05 L385,243.85" stroke="#9a88c0" stroke-width="1.2"/>
<path d="M325,280 L385,242.8" stroke="#262626" stroke-width="1.2"/>
<path d="M325,284.05 L385,246.85" stroke="#9a88c0" stroke-width="1.2"/>
<path d="M325,283 L385,245.8" stroke="#262626" stroke-width="1.2"/>
<path d="M325,287.05 L385,249.85" stroke="#9a88c0" stroke-width="1.2"/>
<path d="M325,286 L385,248.8" stroke="#262626" stroke-width="1.2"/>
<path d="M325,290.05 L385,252.85" stroke="#9a88c0" stroke-width="1.2"/>
<path d="M325,289 L385,251.8" stroke="#262626" stroke-width="1.2"/>
</g>
<g clip-path="url(#gripCR)">
<rect x="335" y="110" width="70" height="140" fill="#565656"/>
<rect x="338" y="112.75" width="3.4" height="3.4" rx="1.0" fill="#ffffff" transform="rotate(-18 339.7 114.45)"/>
<rect x="339.3" y="117.25" width="3.4" height="3.4" rx="1.0" fill="#ffffff" transform="rotate(-18 341 118.95)"/>
<rect x="340.6" y="121.75" width="3.4" height="3.4" rx="1.0" fill="#ffffff" transform="rotate(-18 342.3 123.45)"/>
<rect x="341.9" y="126.25" width="3.4" height="3.4" rx="1.0" fill="#ffffff" transform="rotate(-18 343.6 127.95)"/>
<rect x="343.2" y="130.75" width="3.4" height="3.4" rx="1.0" fill="#ffffff" transform="rotate(-18 344.9 132.45)"/>
<rect x="344.5" y="135.25" width="3.4" height="3.4" rx="1.0" fill="#ffffff" transform="rotate(-18 346.2 136.95)"/>
<rect x="345.8" y="139.75" width="3.4" height="3.4" rx="1.0" fill="#ffffff" transform="rotate(-18 347.5 141.45)"/>
<rect x="347.1" y="144.25" width="3.4" height="3.4" rx="1.0" fill="#ffffff" transform="rotate(-18 348.8 145.95)"/>
<rect x="348.4" y="148.75" width="3.4" height="3.4" rx="1.0" fill="#ffffff" transform="rotate(-18 350.1 150.45)"/>
<rect x="349.7" y="153.25" width="3.4" height="3.4" rx="1.0" fill="#ffffff" transform="rotate(-18 351.4 154.95)"/>
<rect x="351" y="157.75" width="3.4" height="3.4" rx="1.0" fill="#ffffff" transform="rotate(-18 352.7 159.45)"/>
<rect x="352.3" y="162.25" width="3.4" height="3.4" rx="1.0" fill="#ffffff" transform="rotate(-18 354 163.95)"/>
<rect x="353.6" y="166.75" width="3.4" height="3.4" rx="1.0" fill="#ffffff" transform="rotate(-18 355.3 168.45)"/>
<rect x="354.9" y="171.25" width="3.4" height="3.4" rx="1.0" fill="#ffffff" transform="rotate(-18 356.6 172.95)"/>
<rect x="356.2" y="175.75" width="3.4" height="3.4" rx="1.0" fill="#ffffff" transform="rotate(-18 357.9 177.45)"/>
<rect x="357.5" y="180.25" width="3.4" height="3.4" rx="1.0" fill="#ffffff" transform="rotate(-18 359.2 181.95)"/>
<rect x="358.8" y="184.75" width="3.4" height="3.4" rx="1.0" fill="#ffffff" transform="rotate(-18 360.5 186.45)"/>
<rect x="360.1" y="189.25" width="3.4" height="3.4" rx="1.0" fill="#ffffff" transform="rotate(-18 361.8 190.95)"/>
<rect x="361.4" y="193.75" width="3.4" height="3.4" rx="1.0" fill="#ffffff" transform="rotate(-18 363.1 195.45)"/>
<rect x="362.7" y="198.25" width="3.4" height="3.4" rx="1.0" fill="#ffffff" transform="rotate(-18 364.4 199.95)"/>
<rect x="364" y="202.75" width="3.4" height="3.4" rx="1.0" fill="#ffffff" transform="rotate(-18 365.7 204.45)"/>
<rect x="365.3" y="207.25" width="3.4" height="3.4" rx="1.0" fill="#ffffff" transform="rotate(-18 367 208.95)"/>
<rect x="366.6" y="211.75" width="3.4" height="3.4" rx="1.0" fill="#ffffff" transform="rotate(-18 368.3 213.45)"/>
<rect x="367.9" y="216.25" width="3.4" height="3.4" rx="1.0" fill="#ffffff" transform="rotate(-18 369.6 217.95)"/>
<rect x="369.2" y="220.75" width="3.4" height="3.4" rx="1.0" fill="#ffffff" transform="rotate(-18 370.9 222.45)"/>
<rect x="370.5" y="225.25" width="3.4" height="3.4" rx="1.0" fill="#ffffff" transform="rotate(-18 372.2 226.95)"/>
<rect x="371.8" y="229.75" width="3.4" height="3.4" rx="1.0" fill="#ffffff" transform="rotate(-18 373.5 231.45)"/>
<rect x="373.1" y="234.25" width="3.4" height="3.4" rx="1.0" fill="#ffffff" transform="rotate(-18 374.8 235.95)"/>
<rect x="374.4" y="238.75" width="3.4" height="3.4" rx="1.0" fill="#ffffff" transform="rotate(-18 376.1 240.45)"/>
<rect x="375.7" y="243.25" width="3.4" height="3.4" rx="1.0" fill="#ffffff" transform="rotate(-18 377.4 244.95)"/>
<rect x="342.5" y="111.15" width="3.4" height="3.4" rx="1.0" fill="#ffffff" transform="rotate(-18 344.2 112.85)"/>
<rect x="343.8" y="115.65" width="3.4" height="3.4" rx="1.0" fill="#ffffff" transform="rotate(-18 345.5 117.35)"/>
<rect x="345.1" y="120.15" width="3.4" height="3.4" rx="1.0" fill="#ffffff" transform="rotate(-18 346.8 121.85)"/>
<rect x="346.4" y="124.65" width="3.4" height="3.4" rx="1.0" fill="#ffffff" transform="rotate(-18 348.1 126.35)"/>
<rect x="347.7" y="129.15" width="3.4" height="3.4" rx="1.0" fill="#ffffff" transform="rotate(-18 349.4 130.85)"/>
<rect x="349" y="133.65" width="3.4" height="3.4" rx="1.0" fill="#ffffff" transform="rotate(-18 350.7 135.35)"/>
<rect x="350.3" y="138.15" width="3.4" height="3.4" rx="1.0" fill="#ffffff" transform="rotate(-18 352 139.85)"/>
<rect x="351.6" y="142.65" width="3.4" height="3.4" rx="1.0" fill="#ffffff" transform="rotate(-18 353.3 144.35)"/>
<rect x="352.9" y="147.15" width="3.4" height="3.4" rx="1.0" fill="#ffffff" transform="rotate(-18 354.6 148.85)"/>
<rect x="354.2" y="151.65" width="3.4" height="3.4" rx="1.0" fill="#ffffff" transform="rotate(-18 355.9 153.35)"/>
<rect x="355.5" y="156.15" width="3.4" height="3.4" rx="1.0" fill="#ffffff" transform="rotate(-18 357.2 157.85)"/>
<rect x="356.8" y="160.65" width="3.4" height="3.4" rx="1.0" fill="#ffffff" transform="rotate(-18 358.5 162.35)"/>
<rect x="358.1" y="165.15" width="3.4" height="3.4" rx="1.0" fill="#ffffff" transform="rotate(-18 359.8 166.85)"/>
<rect x="359.4" y="169.65" width="3.4" height="3.4" rx="1.0" fill="#ffffff" transform="rotate(-18 361.1 171.35)"/>
<rect x="360.7" y="174.15" width="3.4" height="3.4" rx="1.0" fill="#ffffff" transform="rotate(-18 362.4 175.85)"/>
<rect x="362" y="178.65" width="3.4" height="3.4" rx="1.0" fill="#ffffff" transform="rotate(-18 363.7 180.35)"/>
<rect x="363.3" y="183.15" width="3.4" height="3.4" rx="1.0" fill="#ffffff" transform="rotate(-18 365 184.85)"/>
<rect x="364.6" y="187.65" width="3.4" height="3.4" rx="1.0" fill="#ffffff" transform="rotate(-18 366.3 189.35)"/>
<rect x="365.9" y="192.15" width="3.4" height="3.4" rx="1.0" fill="#ffffff" transform="rotate(-18 367.6 193.85)"/>
<rect x="367.2" y="196.65" width="3.4" height="3.4" rx="1.0" fill="#ffffff" transform="rotate(-18 368.9 198.35)"/>
<rect x="368.5" y="201.15" width="3.4" height="3.4" rx="1.0" fill="#ffffff" transform="rotate(-18 370.2 202.85)"/>
<rect x="369.8" y="205.65" width="3.4" height="3.4" rx="1.0" fill="#ffffff" transform="rotate(-18 371.5 207.35)"/>
<rect x="371.1" y="210.15" width="3.4" height="3.4" rx="1.0" fill="#ffffff" transform="rotate(-18 372.8 211.85)"/>
<rect x="372.4" y="214.65" width="3.4" height="3.4" rx="1.0" fill="#ffffff" transform="rotate(-18 374.1 216.35)"/>
<rect x="373.7" y="219.15" width="3.4" height="3.4" rx="1.0" fill="#ffffff" transform="rotate(-18 375.4 220.85)"/>
<rect x="375" y="223.65" width="3.4" height="3.4" rx="1.0" fill="#ffffff" transform="rotate(-18 376.7 225.35)"/>
<rect x="376.3" y="228.15" width="3.4" height="3.4" rx="1.0" fill="#ffffff" transform="rotate(-18 378 229.85)"/>
<rect x="377.6" y="232.65" width="3.4" height="3.4" rx="1.0" fill="#ffffff" transform="rotate(-18 379.3 234.35)"/>
<rect x="378.9" y="237.15" width="3.4" height="3.4" rx="1.0" fill="#ffffff" transform="rotate(-18 380.6 238.85)"/>
<rect x="380.2" y="241.65" width="3.4" height="3.4" rx="1.0" fill="#ffffff" transform="rotate(-18 381.9 243.35)"/>
<rect x="348.3" y="114.05" width="3.4" height="3.4" rx="1.0" fill="#ffffff" transform="rotate(-18 350 115.75)"/>
<rect x="349.6" y="118.55" width="3.4" height="3.4" rx="1.0" fill="#ffffff" transform="rotate(-18 351.3 120.25)"/>
<rect x="350.9" y="123.05" width="3.4" height="3.4" rx="1.0" fill="#ffffff" transform="rotate(-18 352.6 124.75)"/>
<rect x="352.2" y="127.55" width="3.4" height="3.4" rx="1.0" fill="#ffffff" transform="rotate(-18 353.9 129.25)"/>
<rect x="353.5" y="132.05" width="3.4" height="3.4" rx="1.0" fill="#ffffff" transform="rotate(-18 355.2 133.75)"/>
<rect x="354.8" y="136.55" width="3.4" height="3.4" rx="1.0" fill="#ffffff" transform="rotate(-18 356.5 138.25)"/>
<rect x="356.1" y="141.05" width="3.4" height="3.4" rx="1.0" fill="#ffffff" transform="rotate(-18 357.8 142.75)"/>
<rect x="357.4" y="145.55" width="3.4" height="3.4" rx="1.0" fill="#ffffff" transform="rotate(-18 359.1 147.25)"/>
<rect x="358.7" y="150.05" width="3.4" height="3.4" rx="1.0" fill="#ffffff" transform="rotate(-18 360.4 151.75)"/>
<rect x="360" y="154.55" width="3.4" height="3.4" rx="1.0" fill="#ffffff" transform="rotate(-18 361.7 156.25)"/>
<rect x="361.3" y="159.05" width="3.4" height="3.4" rx="1.0" fill="#ffffff" transform="rotate(-18 363 160.75)"/>
<rect x="362.6" y="163.55" width="3.4" height="3.4" rx="1.0" fill="#ffffff" transform="rotate(-18 364.3 165.25)"/>
<rect x="363.9" y="168.05" width="3.4" height="3.4" rx="1.0" fill="#ffffff" transform="rotate(-18 365.6 169.75)"/>
<rect x="365.2" y="172.55" width="3.4" height="3.4" rx="1.0" fill="#ffffff" transform="rotate(-18 366.9 174.25)"/>
<rect x="366.5" y="177.05" width="3.4" height="3.4" rx="1.0" fill="#ffffff" transform="rotate(-18 368.2 178.75)"/>
<rect x="367.8" y="181.55" width="3.4" height="3.4" rx="1.0" fill="#ffffff" transform="rotate(-18 369.5 183.25)"/>
<rect x="369.1" y="186.05" width="3.4" height="3.4" rx="1.0" fill="#ffffff" transform="rotate(-18 370.8 187.75)"/>
<rect x="370.4" y="190.55" width="3.4" height="3.4" rx="1.0" fill="#ffffff" transform="rotate(-18 372.1 192.25)"/>
<rect x="371.7" y="195.05" width="3.4" height="3.4" rx="1.0" fill="#ffffff" transform="rotate(-18 373.4 196.75)"/>
<rect x="373" y="199.55" width="3.4" height="3.4" rx="1.0" fill="#ffffff" transform="rotate(-18 374.7 201.25)"/>
<rect x="374.3" y="204.05" width="3.4" height="3.4" rx="1.0" fill="#ffffff" transform="rotate(-18 376 205.75)"/>
<rect x="375.6" y="208.55" width="3.4" height="3.4" rx="1.0" fill="#ffffff" transform="rotate(-18 377.3 210.25)"/>
<rect x="376.9" y="213.05" width="3.4" height="3.4" rx="1.0" fill="#ffffff" transform="rotate(-18 378.6 214.75)"/>
<rect x="378.2" y="217.55" width="3.4" height="3.4" rx="1.0" fill="#ffffff" transform="rotate(-18 379.9 219.25)"/>
<rect x="379.5" y="222.05" width="3.4" height="3.4" rx="1.0" fill="#ffffff" transform="rotate(-18 381.2 223.75)"/>
<rect x="380.8" y="226.55" width="3.4" height="3.4" rx="1.0" fill="#ffffff" transform="rotate(-18 382.5 228.25)"/>
<rect x="382.1" y="231.05" width="3.4" height="3.4" rx="1.0" fill="#ffffff" transform="rotate(-18 383.8 232.75)"/>
<rect x="383.4" y="235.55" width="3.4" height="3.4" rx="1.0" fill="#ffffff" transform="rotate(-18 385.1 237.25)"/>
<rect x="384.7" y="240.05" width="3.4" height="3.4" rx="1.0" fill="#ffffff" transform="rotate(-18 386.4 241.75)"/>
<rect x="352.8" y="112.45" width="3.4" height="3.4" rx="1.0" fill="#ffffff" transform="rotate(-18 354.5 114.15)"/>
<rect x="354.1" y="116.95" width="3.4" height="3.4" rx="1.0" fill="#ffffff" transform="rotate(-18 355.8 118.65)"/>
<rect x="355.4" y="121.45" width="3.4" height="3.4" rx="1.0" fill="#ffffff" transform="rotate(-18 357.1 123.15)"/>
<rect x="356.7" y="125.95" width="3.4" height="3.4" rx="1.0" fill="#ffffff" transform="rotate(-18 358.4 127.65)"/>
<rect x="358" y="130.45" width="3.4" height="3.4" rx="1.0" fill="#ffffff" transform="rotate(-18 359.7 132.15)"/>
<rect x="359.3" y="134.95" width="3.4" height="3.4" rx="1.0" fill="#ffffff" transform="rotate(-18 361 136.65)"/>
<rect x="360.6" y="139.45" width="3.4" height="3.4" rx="1.0" fill="#ffffff" transform="rotate(-18 362.3 141.15)"/>
<rect x="361.9" y="143.95" width="3.4" height="3.4" rx="1.0" fill="#ffffff" transform="rotate(-18 363.6 145.65)"/>
<rect x="363.2" y="148.45" width="3.4" height="3.4" rx="1.0" fill="#ffffff" transform="rotate(-18 364.9 150.15)"/>
<rect x="364.5" y="152.95" width="3.4" height="3.4" rx="1.0" fill="#ffffff" transform="rotate(-18 366.2 154.65)"/>
<rect x="365.8" y="157.45" width="3.4" height="3.4" rx="1.0" fill="#ffffff" transform="rotate(-18 367.5 159.15)"/>
<rect x="367.1" y="161.95" width="3.4" height="3.4" rx="1.0" fill="#ffffff" transform="rotate(-18 368.8 163.65)"/>
<rect x="368.4" y="166.45" width="3.4" height="3.4" rx="1.0" fill="#ffffff" transform="rotate(-18 370.1 168.15)"/>
<rect x="369.7" y="170.95" width="3.4" height="3.4" rx="1.0" fill="#ffffff" transform="rotate(-18 371.4 172.65)"/>
<rect x="371" y="175.45" width="3.4" height="3.4" rx="1.0" fill="#ffffff" transform="rotate(-18 372.7 177.15)"/>
<rect x="372.3" y="179.95" width="3.4" height="3.4" rx="1.0" fill="#ffffff" transform="rotate(-18 374 181.65)"/>
<rect x="373.6" y="184.45" width="3.4" height="3.4" rx="1.0" fill="#ffffff" transform="rotate(-18 375.3 186.15)"/>
<rect x="374.9" y="188.95" width="3.4" height="3.4" rx="1.0" fill="#ffffff" transform="rotate(-18 376.6 190.65)"/>
<rect x="376.2" y="193.45" width="3.4" height="3.4" rx="1.0" fill="#ffffff" transform="rotate(-18 377.9 195.15)"/>
<rect x="377.5" y="197.95" width="3.4" height="3.4" rx="1.0" fill="#ffffff" transform="rotate(-18 379.2 199.65)"/>
<rect x="378.8" y="202.45" width="3.4" height="3.4" rx="1.0" fill="#ffffff" transform="rotate(-18 380.5 204.15)"/>
<rect x="380.1" y="206.95" width="3.4" height="3.4" rx="1.0" fill="#ffffff" transform="rotate(-18 381.8 208.65)"/>
<rect x="381.4" y="211.45" width="3.4" height="3.4" rx="1.0" fill="#ffffff" transform="rotate(-18 383.1 213.15)"/>
<rect x="382.7" y="215.95" width="3.4" height="3.4" rx="1.0" fill="#ffffff" transform="rotate(-18 384.4 217.65)"/>
<rect x="384" y="220.45" width="3.4" height="3.4" rx="1.0" fill="#ffffff" transform="rotate(-18 385.7 222.15)"/>
<rect x="385.3" y="224.95" width="3.4" height="3.4" rx="1.0" fill="#ffffff" transform="rotate(-18 387 226.65)"/>
<rect x="386.6" y="229.45" width="3.4" height="3.4" rx="1.0" fill="#ffffff" transform="rotate(-18 388.3 231.15)"/>
<rect x="387.9" y="233.95" width="3.4" height="3.4" rx="1.0" fill="#ffffff" transform="rotate(-18 389.6 235.65)"/>
<rect x="389.2" y="238.45" width="3.4" height="3.4" rx="1.0" fill="#ffffff" transform="rotate(-18 390.9 240.15)"/>
<rect x="390.5" y="242.95" width="3.4" height="3.4" rx="1.0" fill="#ffffff" transform="rotate(-18 392.2 244.65)"/>
<rect x="357.3" y="110.85" width="3.4" height="3.4" rx="1.0" fill="#ffffff" transform="rotate(-18 359 112.55)"/>
<rect x="358.6" y="115.35" width="3.4" height="3.4" rx="1.0" fill="#ffffff" transform="rotate(-18 360.3 117.05)"/>
<rect x="359.9" y="119.85" width="3.4" height="3.4" rx="1.0" fill="#ffffff" transform="rotate(-18 361.6 121.55)"/>
<rect x="361.2" y="124.35" width="3.4" height="3.4" rx="1.0" fill="#ffffff" transform="rotate(-18 362.9 126.05)"/>
<rect x="362.5" y="128.85" width="3.4" height="3.4" rx="1.0" fill="#ffffff" transform="rotate(-18 364.2 130.55)"/>
<rect x="363.8" y="133.35" width="3.4" height="3.4" rx="1.0" fill="#ffffff" transform="rotate(-18 365.5 135.05)"/>
<rect x="365.1" y="137.85" width="3.4" height="3.4" rx="1.0" fill="#ffffff" transform="rotate(-18 366.8 139.55)"/>
<rect x="366.4" y="142.35" width="3.4" height="3.4" rx="1.0" fill="#ffffff" transform="rotate(-18 368.1 144.05)"/>
<rect x="367.7" y="146.85" width="3.4" height="3.4" rx="1.0" fill="#ffffff" transform="rotate(-18 369.4 148.55)"/>
<rect x="369" y="151.35" width="3.4" height="3.4" rx="1.0" fill="#ffffff" transform="rotate(-18 370.7 153.05)"/>
<rect x="370.3" y="155.85" width="3.4" height="3.4" rx="1.0" fill="#ffffff" transform="rotate(-18 372 157.55)"/>
<rect x="371.6" y="160.35" width="3.4" height="3.4" rx="1.0" fill="#ffffff" transform="rotate(-18 373.3 162.05)"/>
<rect x="372.9" y="164.85" width="3.4" height="3.4" rx="1.0" fill="#ffffff" transform="rotate(-18 374.6 166.55)"/>
<rect x="374.2" y="169.35" width="3.4" height="3.4" rx="1.0" fill="#ffffff" transform="rotate(-18 375.9 171.05)"/>
<rect x="375.5" y="173.85" width="3.4" height="3.4" rx="1.0" fill="#ffffff" transform="rotate(-18 377.2 175.55)"/>
<rect x="376.8" y="178.35" width="3.4" height="3.4" rx="1.0" fill="#ffffff" transform="rotate(-18 378.5 180.05)"/>
<rect x="378.1" y="182.85" width="3.4" height="3.4" rx="1.0" fill="#ffffff" transform="rotate(-18 379.8 184.55)"/>
<rect x="379.4" y="187.35" width="3.4" height="3.4" rx="1.0" fill="#ffffff" transform="rotate(-18 381.1 189.05)"/>
<rect x="380.7" y="191.85" width="3.4" height="3.4" rx="1.0" fill="#ffffff" transform="rotate(-18 382.4 193.55)"/>
<rect x="382" y="196.35" width="3.4" height="3.4" rx="1.0" fill="#ffffff" transform="rotate(-18 383.7 198.05)"/>
<rect x="383.3" y="200.85" width="3.4" height="3.4" rx="1.0" fill="#ffffff" transform="rotate(-18 385 202.55)"/>
<rect x="384.6" y="205.35" width="3.4" height="3.4" rx="1.0" fill="#ffffff" transform="rotate(-18 386.3 207.05)"/>
<rect x="385.9" y="209.85" width="3.4" height="3.4" rx="1.0" fill="#ffffff" transform="rotate(-18 387.6 211.55)"/>
<rect x="387.2" y="214.35" width="3.4" height="3.4" rx="1.0" fill="#ffffff" transform="rotate(-18 388.9 216.05)"/>
<rect x="388.5" y="218.85" width="3.4" height="3.4" rx="1.0" fill="#ffffff" transform="rotate(-18 390.2 220.55)"/>
<rect x="389.8" y="223.35" width="3.4" height="3.4" rx="1.0" fill="#ffffff" transform="rotate(-18 391.5 225.05)"/>
<rect x="391.1" y="227.85" width="3.4" height="3.4" rx="1.0" fill="#ffffff" transform="rotate(-18 392.8 229.55)"/>
<rect x="392.4" y="232.35" width="3.4" height="3.4" rx="1.0" fill="#ffffff" transform="rotate(-18 394.1 234.05)"/>
<rect x="393.7" y="236.85" width="3.4" height="3.4" rx="1.0" fill="#ffffff" transform="rotate(-18 395.4 238.55)"/>
<rect x="395" y="241.35" width="3.4" height="3.4" rx="1.0" fill="#ffffff" transform="rotate(-18 396.7 243.05)"/>
<rect x="365.7" y="122.75" width="3.4" height="3.4" rx="1.0" fill="#ffffff" transform="rotate(-18 367.4 124.45)"/>
<rect x="367" y="127.25" width="3.4" height="3.4" rx="1.0" fill="#ffffff" transform="rotate(-18 368.7 128.95)"/>
<rect x="368.3" y="131.75" width="3.4" height="3.4" rx="1.0" fill="#ffffff" transform="rotate(-18 370 133.45)"/>
<rect x="369.6" y="136.25" width="3.4" height="3.4" rx="1.0" fill="#ffffff" transform="rotate(-18 371.3 137.95)"/>
<rect x="370.9" y="140.75" width="3.4" height="3.4" rx="1.0" fill="#ffffff" transform="rotate(-18 372.6 142.45)"/>
<rect x="372.2" y="145.25" width="3.4" height="3.4" rx="1.0" fill="#ffffff" transform="rotate(-18 373.9 146.95)"/>
<rect x="373.5" y="149.75" width="3.4" height="3.4" rx="1.0" fill="#ffffff" transform="rotate(-18 375.2 151.45)"/>
<rect x="374.8" y="154.25" width="3.4" height="3.4" rx="1.0" fill="#ffffff" transform="rotate(-18 376.5 155.95)"/>
<rect x="376.1" y="158.75" width="3.4" height="3.4" rx="1.0" fill="#ffffff" transform="rotate(-18 377.8 160.45)"/>
<rect x="377.4" y="163.25" width="3.4" height="3.4" rx="1.0" fill="#ffffff" transform="rotate(-18 379.1 164.95)"/>
<rect x="378.7" y="167.75" width="3.4" height="3.4" rx="1.0" fill="#ffffff" transform="rotate(-18 380.4 169.45)"/>
<rect x="380" y="172.25" width="3.4" height="3.4" rx="1.0" fill="#ffffff" transform="rotate(-18 381.7 173.95)"/>
<rect x="381.3" y="176.75" width="3.4" height="3.4" rx="1.0" fill="#ffffff" transform="rotate(-18 383 178.45)"/>
<rect x="382.6" y="181.25" width="3.4" height="3.4" rx="1.0" fill="#ffffff" transform="rotate(-18 384.3 182.95)"/>
<rect x="383.9" y="185.75" width="3.4" height="3.4" rx="1.0" fill="#ffffff" transform="rotate(-18 385.6 187.45)"/>
<rect x="385.2" y="190.25" width="3.4" height="3.4" rx="1.0" fill="#ffffff" transform="rotate(-18 386.9 191.95)"/>
<rect x="386.5" y="194.75" width="3.4" height="3.4" rx="1.0" fill="#ffffff" transform="rotate(-18 388.2 196.45)"/>
<rect x="387.8" y="199.25" width="3.4" height="3.4" rx="1.0" fill="#ffffff" transform="rotate(-18 389.5 200.95)"/>
<rect x="389.1" y="203.75" width="3.4" height="3.4" rx="1.0" fill="#ffffff" transform="rotate(-18 390.8 205.45)"/>
<rect x="390.4" y="208.25" width="3.4" height="3.4" rx="1.0" fill="#ffffff" transform="rotate(-18 392.1 209.95)"/>
<rect x="391.7" y="212.75" width="3.4" height="3.4" rx="1.0" fill="#ffffff" transform="rotate(-18 393.4 214.45)"/>
<rect x="393" y="217.25" width="3.4" height="3.4" rx="1.0" fill="#ffffff" transform="rotate(-18 394.7 218.95)"/>
<rect x="394.3" y="221.75" width="3.4" height="3.4" rx="1.0" fill="#ffffff" transform="rotate(-18 396 223.45)"/>
<rect x="395.6" y="226.25" width="3.4" height="3.4" rx="1.0" fill="#ffffff" transform="rotate(-18 397.3 227.95)"/>
<rect x="396.9" y="230.75" width="3.4" height="3.4" rx="1.0" fill="#ffffff" transform="rotate(-18 398.6 232.45)"/>
<rect x="398.2" y="235.25" width="3.4" height="3.4" rx="1.0" fill="#ffffff" transform="rotate(-18 399.9 236.95)"/>
<rect x="399.5" y="239.75" width="3.4" height="3.4" rx="1.0" fill="#ffffff" transform="rotate(-18 401.2 241.45)"/>
<rect x="400.8" y="244.25" width="3.4" height="3.4" rx="1.0" fill="#ffffff" transform="rotate(-18 402.5 245.95)"/>
<rect x="396.2" y="211.15" width="3.4" height="3.4" rx="1.0" fill="#ffffff" transform="rotate(-18 397.9 212.85)"/>
<rect x="397.5" y="215.65" width="3.4" height="3.4" rx="1.0" fill="#ffffff" transform="rotate(-18 399.2 217.35)"/>
<rect x="398.8" y="220.15" width="3.4" height="3.4" rx="1.0" fill="#ffffff" transform="rotate(-18 400.5 221.85)"/>
<rect x="400.1" y="224.65" width="3.4" height="3.4" rx="1.0" fill="#ffffff" transform="rotate(-18 401.8 226.35)"/>
<rect x="401.4" y="229.15" width="3.4" height="3.4" rx="1.0" fill="#ffffff" transform="rotate(-18 403.1 230.85)"/>
<rect x="402.7" y="233.65" width="3.4" height="3.4" rx="1.0" fill="#ffffff" transform="rotate(-18 404.4 235.35)"/>
<rect x="404" y="238.15" width="3.4" height="3.4" rx="1.0" fill="#ffffff" transform="rotate(-18 405.7 239.85)"/>
<rect x="405.3" y="242.65" width="3.4" height="3.4" rx="1.0" fill="#ffffff" transform="rotate(-18 407 244.35)"/>
</g>
<g clip-path="url(#gripRR)">
<rect x="355" y="110" width="70" height="140" fill="#ffffff"/>
<path d="M355,114.15 L425,113.35" stroke="#9a88c0" stroke-width="1.3"/>
<path d="M355,113 L425,112.2" stroke="#262626" stroke-width="1.25"/>
<path d="M355,117.45 L425,116.65" stroke="#9a88c0" stroke-width="1.3"/>
<path d="M355,116.3 L425,115.5" stroke="#262626" stroke-width="1.25"/>
<path d="M355,120.75 L425,119.95" stroke="#9a88c0" stroke-width="1.3"/>
<path d="M355,119.6 L425,118.8" stroke="#262626" stroke-width="1.25"/>
<path d="M355,124.05 L425,123.25" stroke="#9a88c0" stroke-width="1.3"/>
<path d="M355,122.9 L425,122.1" stroke="#262626" stroke-width="1.25"/>
<path d="M355,127.35 L425,126.55" stroke="#9a88c0" stroke-width="1.3"/>
<path d="M355,126.2 L425,125.4" stroke="#262626" stroke-width="1.25"/>
<path d="M355,130.65 L425,129.85" stroke="#9a88c0" stroke-width="1.3"/>
<path d="M355,129.5 L425,128.7" stroke="#262626" stroke-width="1.25"/>
<path d="M355,133.95 L425,133.15" stroke="#9a88c0" stroke-width="1.3"/>
<path d="M355,132.8 L425,132" stroke="#262626" stroke-width="1.25"/>
<path d="M355,137.25 L425,136.45" stroke="#9a88c0" stroke-width="1.3"/>
<path d="M355,136.1 L425,135.3" stroke="#262626" stroke-width="1.25"/>
<path d="M355,140.55 L425,139.75" stroke="#9a88c0" stroke-width="1.3"/>
<path d="M355,139.4 L425,138.6" stroke="#262626" stroke-width="1.25"/>
<path d="M355,143.85 L425,143.05" stroke="#9a88c0" stroke-width="1.3"/>
<path d="M355,142.7 L425,141.9" stroke="#262626" stroke-width="1.25"/>
<path d="M355,147.15 L425,146.35" stroke="#9a88c0" stroke-width="1.3"/>
<path d="M355,146 L425,145.2" stroke="#262626" stroke-width="1.25"/>
<path d="M355,150.45 L425,149.65" stroke="#9a88c0" stroke-width="1.3"/>
<path d="M355,149.3 L425,148.5" stroke="#262626" stroke-width="1.25"/>
<path d="M355,153.75 L425,152.95" stroke="#9a88c0" stroke-width="1.3"/>
<path d="M355,152.6 L425,151.8" stroke="#262626" stroke-width="1.25"/>
<path d="M355,157.05 L425,156.25" stroke="#9a88c0" stroke-width="1.3"/>
<path d="M355,155.9 L425,155.1" stroke="#262626" stroke-width="1.25"/>
<path d="M355,160.35 L425,159.55" stroke="#9a88c0" stroke-width="1.3"/>
<path d="M355,159.2 L425,158.4" stroke="#262626" stroke-width="1.25"/>
<path d="M355,163.65 L425,162.85" stroke="#9a88c0" stroke-width="1.3"/>
<path d="M355,162.5 L425,161.7" stroke="#262626" stroke-width="1.25"/>
<path d="M355,166.95 L425,166.15" stroke="#9a88c0" stroke-width="1.3"/>
<path d="M355,165.8 L425,165" stroke="#262626" stroke-width="1.25"/>
<path d="M355,170.25 L425,169.45" stroke="#9a88c0" stroke-width="1.3"/>
<path d="M355,169.1 L425,168.3" stroke="#262626" stroke-width="1.25"/>
<path d="M355,173.55 L425,172.75" stroke="#9a88c0" stroke-width="1.3"/>
<path d="M355,172.4 L425,171.6" stroke="#262626" stroke-width="1.25"/>
<path d="M355,176.85 L425,176.05" stroke="#9a88c0" stroke-width="1.3"/>
<path d="M355,175.7 L425,174.9" stroke="#262626" stroke-width="1.25"/>
<path d="M355,180.15 L425,179.35" stroke="#9a88c0" stroke-width="1.3"/>
<path d="M355,179 L425,178.2" stroke="#262626" stroke-width="1.25"/>
<path d="M355,183.45 L425,182.65" stroke="#9a88c0" stroke-width="1.3"/>
<path d="M355,182.3 L425,181.5" stroke="#262626" stroke-width="1.25"/>
<path d="M355,186.75 L425,185.95" stroke="#9a88c0" stroke-width="1.3"/>
<path d="M355,185.6 L425,184.8" stroke="#262626" stroke-width="1.25"/>
<path d="M355,190.05 L425,189.25" stroke="#9a88c0" stroke-width="1.3"/>
<path d="M355,188.9 L425,188.1" stroke="#262626" stroke-width="1.25"/>
<path d="M355,193.35 L425,192.55" stroke="#9a88c0" stroke-width="1.3"/>
<path d="M355,192.2 L425,191.4" stroke="#262626" stroke-width="1.25"/>
<path d="M355,196.65 L425,195.85" stroke="#9a88c0" stroke-width="1.3"/>
<path d="M355,195.5 L425,194.7" stroke="#262626" stroke-width="1.25"/>
<path d="M355,199.95 L425,199.15" stroke="#9a88c0" stroke-width="1.3"/>
<path d="M355,198.8 L425,198" stroke="#262626" stroke-width="1.25"/>
<path d="M355,203.25 L425,202.45" stroke="#9a88c0" stroke-width="1.3"/>
<path d="M355,202.1 L425,201.3" stroke="#262626" stroke-width="1.25"/>
<path d="M355,206.55 L425,205.75" stroke="#9a88c0" stroke-width="1.3"/>
<path d="M355,205.4 L425,204.6" stroke="#262626" stroke-width="1.25"/>
<path d="M355,209.85 L425,209.05" stroke="#9a88c0" stroke-width="1.3"/>
<path d="M355,208.7 L425,207.9" stroke="#262626" stroke-width="1.25"/>
<path d="M355,213.15 L425,212.35" stroke="#9a88c0" stroke-width="1.3"/>
<path d="M355,212 L425,211.2" stroke="#262626" stroke-width="1.25"/>
<path d="M355,216.45 L425,215.65" stroke="#9a88c0" stroke-width="1.3"/>
<path d="M355,215.3 L425,214.5" stroke="#262626" stroke-width="1.25"/>
<path d="M355,219.75 L425,218.95" stroke="#9a88c0" stroke-width="1.3"/>
<path d="M355,218.6 L425,217.8" stroke="#262626" stroke-width="1.25"/>
<path d="M355,223.05 L425,222.25" stroke="#9a88c0" stroke-width="1.3"/>
<path d="M355,221.9 L425,221.1" stroke="#262626" stroke-width="1.25"/>
<path d="M355,226.35 L425,225.55" stroke="#9a88c0" stroke-width="1.3"/>
<path d="M355,225.2 L425,224.4" stroke="#262626" stroke-width="1.25"/>
<path d="M355,229.65 L425,228.85" stroke="#9a88c0" stroke-width="1.3"/>
<path d="M355,228.5 L425,227.7" stroke="#262626" stroke-width="1.25"/>
<path d="M355,232.95 L425,232.15" stroke="#9a88c0" stroke-width="1.3"/>
<path d="M355,231.8 L425,231" stroke="#262626" stroke-width="1.25"/>
<path d="M355,236.25 L425,235.45" stroke="#9a88c0" stroke-width="1.3"/>
<path d="M355,235.1 L425,234.3" stroke="#262626" stroke-width="1.25"/>
<path d="M355,239.55 L425,238.75" stroke="#9a88c0" stroke-width="1.3"/>
<path d="M355,238.4 L425,237.6" stroke="#262626" stroke-width="1.25"/>
</g>
<line x1="340.99" y1="121" x2="375.67" y2="240.6" stroke="#555" stroke-width="0.854" />
<line x1="362.6" y1="119" x2="403.38" y2="237.2" stroke="#555" stroke-width="0.854" />
<path d="M333.2,124 L339.4,119.9 L372.4,118.9 L415.3,234.6 L365.2,241.4Z" stroke="#323232" stroke-width="1.098" fill="none" />
<circle cx="355" cy="133" r="3.9" fill="#ffffff" stroke="#444" stroke-width="0.8"/>
<circle cx="355" cy="133" r="1.3" fill="#b0b0b0" stroke="#0c0c0c" stroke-width="1.45"/>
<circle cx="386.6" cy="222" r="3.9" fill="#ffffff" stroke="#444" stroke-width="0.8"/>
<circle cx="386.6" cy="222" r="1.3" fill="#b0b0b0" stroke="#0c0c0c" stroke-width="1.45"/>
<path d="M327,149.6 C332,147.6 337,147.4 341,149 C338,151 334,154.6 331,155.6" stroke="#323232" stroke-width="0.732" fill="#f8f8f8" />
<path d="M275.4,81.5 L275.4,95 Q275.4,99.6 280.4,99.6 L306.6,99.6 Q311.6,99.6 311.6,95 L311.6,81.7" stroke="#323232" stroke-width="1.098" fill="none" />
<line x1="275.4" y1="83.9" x2="311.6" y2="84.1" stroke="#323232" stroke-width="0.976" />
<path d="M311.6,85.6 C316,86.4 319.6,88 319.8,89.8 C319.6,93 316,96.6 311.6,97.8" stroke="#323232" stroke-width="0.854" fill="none" />
<line x1="311.6" y1="91.4" x2="319" y2="91.4" stroke="#9878c6" stroke-width="0.61" />
<circle cx="295.5" cy="118.5" r="3.3" fill="#f8f8f8" stroke="#323232" stroke-width="0.9"/>
<path d="M322.6,156 C323,151.6 325.6,149 328.4,148.6 C331.6,148.8 332.6,151.4 332,153.6" stroke="#323232" stroke-width="0.732" fill="none" />
<circle cx="328.2" cy="152.2" r="2.6" fill="#f8f8f8" stroke="#323232" stroke-width="0.8"/>
<circle cx="328.2" cy="152.2" r="1.2" fill="#555" stroke="#222" stroke-width="0.6"/>
<path d="M406,124 C402,121.6 398,119.6 394.7,118.9 C391,118 388,117.6 384.6,117.6" stroke="#323232" stroke-width="1.159" fill="none" />
<path d="M406,124 C407.6,126 407.2,128.6 405,130.6 C403.6,131 402.8,130.4 402.3,129" stroke="#323232" stroke-width="1.159" fill="none" />
<path d="M402.3,129 L385.9,123.3 L382.1,122" stroke="#323232" stroke-width="1.159" fill="none" />
<path d="M404,131 L378.3,135.9" stroke="#323232" stroke-width="0.976" fill="none" />
<path d="M403,130.2 L380,134.4" stroke="#9878c6" stroke-width="0.61" fill="none" />
<path d="M382,122 C380,125 380.6,129.6 384,132.6" stroke="#323232" stroke-width="0.732" fill="none" />
<circle cx="375.8" cy="127" r="1.5" fill="none" stroke="#323232" stroke-width="0.7"/>
<path d="M386,121.2 C378,118.2 370,117.3 361,117.3" stroke="#6a3fa6" stroke-width="1.7" fill="none" />
<path d="M386.4,119.8 C378,116.6 366,115.5 356.3,115.7" stroke="#1a1a1a" stroke-width="1.586" fill="none" />
<path d="M398.6,121.4 L400.6,127.4 M403,123.4 L404.4,128.6" stroke="#9878c6" stroke-width="0.854" fill="none" />
<path d="M394.4,113.8 C395,116.4 397,118.6 400,120.2 C403,121.8 405.6,123 407.6,123.6 C413,125.4 419,124.8 424,121.5 C426.6,119.8 428.4,118 429.5,116.4" stroke="#323232" stroke-width="1.403" fill="none" />
<path d="M429.5,116.4 C428.6,119.4 426.5,122.6 423.6,124.6 C419.5,127.4 414,128.6 409.4,127.4" stroke="#323232" stroke-width="1.342" fill="none" />
<path d="M428.6,117.8 C425.8,121.2 421.8,124.6 417.4,126.4" stroke="#9878c6" stroke-width="0.61" fill="none" />
<path d="M408.6,123.8 L409.6,127.6 L411,129.4 C414,130.2 418,129.8 421,128.2" stroke="#323232" stroke-width="0.854" fill="none" />
</g>
<g id="front">
<path d="M548.3,126 L548.3,114.3 Q548.3,109.9 552.7,109.9 L591.1,109.9 Q595.5,109.9 595.5,114.3 L595.5,126" stroke="#323232" stroke-width="1.098" fill="none" />
<path d="M551.6,118.4 L559.6,114.4 L584.4,114.4 L592.6,118.4" stroke="#323232" stroke-width="0.854" fill="none" />
<rect x="551" y="116.6" width="1.8" height="6" fill="none" stroke="#9878c6" stroke-width="0.5"/>
<rect x="592.4" y="116.6" width="1.8" height="6" fill="none" stroke="#9878c6" stroke-width="0.5"/>
<rect x="567.2" y="109.6" width="10.8" height="4.6" fill="#f6f6f6" stroke="#323232" stroke-width="0.8"/>
<rect x="570" y="107.4" width="4.8" height="2.2" fill="#f6f6f6" stroke="#323232" stroke-width="0.6"/>
<rect x="569" y="103.2" width="6.4" height="4.4" fill="#b5a6cc" stroke="#54447a" stroke-width="0.9"/>
<line x1="569.6" y1="105.4" x2="574.8" y2="105.4" stroke="#9878c6" stroke-width="0.61" />
<path d="M544.1,174.6 L544.1,135.4 A18,18 0 0 1 562.1,117.4 L582.6,117.4 A18,18 0 0 1 600.6,135.4 L600.6,174.6" stroke="#323232" stroke-width="1.22" fill="#f4f4f4" />
<line x1="544.1" y1="174.6" x2="553.4" y2="174.6" stroke="#323232" stroke-width="1.098" />
<line x1="591.2" y1="174.6" x2="600.6" y2="174.6" stroke="#323232" stroke-width="1.098" />
<circle cx="572.3" cy="144.8" r="22.7" fill="#f6f6f6" stroke="#2c2c2c" stroke-width="1.5"/>
<circle cx="572.3" cy="144.8" r="21.5" fill="none" stroke="#b8a6d2" stroke-width="0.4"/>
<circle cx="572.3" cy="144.8" r="11.4" fill="#f6f6f6" stroke="#262626" stroke-width="1.35"/>
<circle cx="572.3" cy="144.8" r="10.2" fill="none" stroke="#555" stroke-width="0.6"/>
<circle cx="572.3" cy="144.6" r="2.3" fill="#fafafa" stroke="#222" stroke-width="1.1"/>
<path d="M559.8,163.8 L559.8,171 C557.4,174 556.3,178 556.3,182.3 A16,16 0 0 0 588.3,182.3 C588.3,178 587.2,174 584.8,171 L584.8,163.8" stroke="#323232" stroke-width="1.098" fill="#f6f6f6" />
<path d="M559.8,163.7 A22.7,22.7 0 0 0 584.8,163.7" stroke="#4a4458" stroke-width="1.098" fill="none" />
<circle cx="572.3" cy="182.3" r="10.8" fill="#f6f6f6" stroke="#262626" stroke-width="1.35"/>
<circle cx="572.3" cy="182.3" r="9.4" fill="none" stroke="#555" stroke-width="0.6"/>
<rect x="544" y="174.4" width="3.2" height="2.6" fill="#111"/><rect x="544" y="178.6" width="3.2" height="2.6" fill="#111"/>
<rect x="597.6" y="174.4" width="3" height="2.2" fill="#111"/>
<path d="M554.76,190.11 A19.2,19.2 0 0 0 589.84,190.11" stroke="#2a2a2a" stroke-width="1.525" fill="none" />
<path d="M552.75,191 A21.4,21.4 0 0 0 591.85,191" stroke="#323232" stroke-width="0.854" fill="none" />
<path d="M550.92,191.82 A23.4,23.4 0 0 0 593.68,191.82" stroke="#555" stroke-width="0.854" fill="none" />
<path d="M547.46,188.49 A25.6,25.6 0 0 0 597.14,188.49" stroke="#2a2a2a" stroke-width="1.403" fill="none" />
<line x1="548.3" y1="174.6" x2="548.3" y2="196" stroke="#323232" stroke-width="0.976" />
<line x1="552" y1="174.6" x2="552" y2="196" stroke="#323232" stroke-width="0.976" />
<line x1="555.4" y1="174.6" x2="555.4" y2="196" stroke="#323232" stroke-width="0.976" />
<line x1="596.3" y1="174.6" x2="596.3" y2="196" stroke="#323232" stroke-width="0.976" />
<line x1="592.6" y1="174.6" x2="592.6" y2="196" stroke="#323232" stroke-width="0.976" />
<line x1="589.2" y1="174.6" x2="589.2" y2="196" stroke="#323232" stroke-width="0.976" />
<path d="M543.6,185.4 L527.4,186.6 C526,187.6 526.2,189 527.2,190 C529.4,192 533,193.2 536,193 C539,192.6 541.6,190.6 543.6,187.8 Z" stroke="#323232" stroke-width="1.098" fill="#f6f3fa" />
<path d="M528,188.2 L542.6,187.2 M529.6,190.4 C533,191.4 537,191 540.6,189.2" stroke="#9878c6" stroke-width="0.671" fill="none" />
<path d="M600.8,185.4 L621.8,186.6 C623.4,187.6 623.2,189 622.2,190 C619.6,192.2 615,193.4 611,193.2 C606,192.8 602.6,190.6 600.8,187.8 Z" stroke="#323232" stroke-width="1.098" fill="#f6f3fa" />
<path d="M607,188 L622,188.2 M608,190.6 C612,191.6 616,191.4 620,190" stroke="#9878c6" stroke-width="0.671" fill="none" />
<path d="M535.6,193 L536,196.4 M609.4,193 L609,196.4" stroke="#323232" stroke-width="0.854" fill="none" />
<path d="M599.4,178.4 C602,180 604.6,183 606.4,186 C607.8,188.6 609.4,190.6 611,192" stroke="#1a1a1a" stroke-width="1.708" fill="none" />
<defs><clipPath id="fgL"><path d="M534.7,196 L539.5,196 L547.7,211 L547.7,435.5 L534.7,435.5 Z"/></clipPath><clipPath id="fgR"><path d="M609.9,196 L605.1,196 L596.9,211 L596.9,435.5 L609.9,435.5 Z"/></clipPath></defs>
<g clip-path="url(#fgL)">
<path d="M537.4,184 L544.5,189.1" stroke="#303030" stroke-width="4.7" stroke-linecap="round"/>
<path d="M537.4,189.7 L544.5,194.8" stroke="#303030" stroke-width="4.7" stroke-linecap="round"/>
<path d="M537.4,195.4 L544.5,200.5" stroke="#303030" stroke-width="4.7" stroke-linecap="round"/>
<path d="M537.4,201.1 L544.5,206.2" stroke="#303030" stroke-width="4.7" stroke-linecap="round"/>
<path d="M537.4,206.8 L544.5,211.9" stroke="#303030" stroke-width="4.7" stroke-linecap="round"/>
<path d="M537.4,212.5 L544.5,217.6" stroke="#303030" stroke-width="4.7" stroke-linecap="round"/>
<path d="M537.4,218.2 L544.5,223.3" stroke="#303030" stroke-width="4.7" stroke-linecap="round"/>
<path d="M537.4,223.9 L544.5,229" stroke="#303030" stroke-width="4.7" stroke-linecap="round"/>
<path d="M537.4,229.6 L544.5,234.7" stroke="#303030" stroke-width="4.7" stroke-linecap="round"/>
<path d="M537.4,235.3 L544.5,240.4" stroke="#303030" stroke-width="4.7" stroke-linecap="round"/>
<path d="M537.4,241 L544.5,246.1" stroke="#303030" stroke-width="4.7" stroke-linecap="round"/>
<path d="M537.4,246.7 L544.5,251.8" stroke="#303030" stroke-width="4.7" stroke-linecap="round"/>
<path d="M537.4,252.4 L544.5,257.5" stroke="#303030" stroke-width="4.7" stroke-linecap="round"/>
<path d="M537.4,258.1 L544.5,263.2" stroke="#303030" stroke-width="4.7" stroke-linecap="round"/>
<path d="M537.4,263.8 L544.5,268.9" stroke="#303030" stroke-width="4.7" stroke-linecap="round"/>
<path d="M537.4,269.5 L544.5,274.6" stroke="#303030" stroke-width="4.7" stroke-linecap="round"/>
<path d="M537.4,275.2 L544.5,280.3" stroke="#303030" stroke-width="4.7" stroke-linecap="round"/>
<path d="M537.4,280.9 L544.5,286" stroke="#303030" stroke-width="4.7" stroke-linecap="round"/>
<path d="M537.4,286.6 L544.5,291.7" stroke="#303030" stroke-width="4.7" stroke-linecap="round"/>
<path d="M537.4,292.3 L544.5,297.4" stroke="#303030" stroke-width="4.7" stroke-linecap="round"/>
<path d="M537.4,298 L544.5,303.1" stroke="#303030" stroke-width="4.7" stroke-linecap="round"/>
<path d="M537.4,303.7 L544.5,308.8" stroke="#303030" stroke-width="4.7" stroke-linecap="round"/>
<path d="M537.4,309.4 L544.5,314.5" stroke="#303030" stroke-width="4.7" stroke-linecap="round"/>
<path d="M537.4,315.1 L544.5,320.2" stroke="#303030" stroke-width="4.7" stroke-linecap="round"/>
<path d="M537.4,320.8 L544.5,325.9" stroke="#303030" stroke-width="4.7" stroke-linecap="round"/>
<path d="M537.4,326.5 L544.5,331.6" stroke="#303030" stroke-width="4.7" stroke-linecap="round"/>
<path d="M537.4,332.2 L544.5,337.3" stroke="#303030" stroke-width="4.7" stroke-linecap="round"/>
<path d="M537.4,337.9 L544.5,343" stroke="#303030" stroke-width="4.7" stroke-linecap="round"/>
<path d="M537.4,343.6 L544.5,348.7" stroke="#303030" stroke-width="4.7" stroke-linecap="round"/>
<path d="M537.4,349.3 L544.5,354.4" stroke="#303030" stroke-width="4.7" stroke-linecap="round"/>
<path d="M537.4,355 L544.5,360.1" stroke="#303030" stroke-width="4.7" stroke-linecap="round"/>
<path d="M537.4,360.7 L544.5,365.8" stroke="#303030" stroke-width="4.7" stroke-linecap="round"/>
<path d="M537.4,366.4 L544.5,371.5" stroke="#303030" stroke-width="4.7" stroke-linecap="round"/>
<path d="M537.4,372.1 L544.5,377.2" stroke="#303030" stroke-width="4.7" stroke-linecap="round"/>
<path d="M537.4,377.8 L544.5,382.9" stroke="#303030" stroke-width="4.7" stroke-linecap="round"/>
<path d="M537.4,383.5 L544.5,388.6" stroke="#303030" stroke-width="4.7" stroke-linecap="round"/>
<path d="M537.4,389.2 L544.5,394.3" stroke="#303030" stroke-width="4.7" stroke-linecap="round"/>
<path d="M537.4,394.9 L544.5,400" stroke="#303030" stroke-width="4.7" stroke-linecap="round"/>
<path d="M537.4,400.6 L544.5,405.7" stroke="#303030" stroke-width="4.7" stroke-linecap="round"/>
<path d="M537.4,406.3 L544.5,411.4" stroke="#303030" stroke-width="4.7" stroke-linecap="round"/>
<path d="M537.4,412 L544.5,417.1" stroke="#303030" stroke-width="4.7" stroke-linecap="round"/>
<path d="M537.4,417.7 L544.5,422.8" stroke="#303030" stroke-width="4.7" stroke-linecap="round"/>
<path d="M537.4,423.4 L544.5,428.5" stroke="#303030" stroke-width="4.7" stroke-linecap="round"/>
<path d="M537.4,429.1 L544.5,434.2" stroke="#303030" stroke-width="4.7" stroke-linecap="round"/>
<path d="M537.4,434.8 L544.5,439.9" stroke="#303030" stroke-width="4.7" stroke-linecap="round"/>
<path d="M537.4,440.5 L544.5,445.6" stroke="#303030" stroke-width="4.7" stroke-linecap="round"/>
<path d="M537.0,183.7 L544.5,189.1" stroke="#ffffff" stroke-width="2.7" stroke-linecap="round"/>
<path d="M537.0,189.4 L544.5,194.8" stroke="#ffffff" stroke-width="2.7" stroke-linecap="round"/>
<path d="M537.0,195.1 L544.5,200.5" stroke="#ffffff" stroke-width="2.7" stroke-linecap="round"/>
<path d="M537.0,200.8 L544.5,206.2" stroke="#ffffff" stroke-width="2.7" stroke-linecap="round"/>
<path d="M537.0,206.5 L544.5,211.9" stroke="#ffffff" stroke-width="2.7" stroke-linecap="round"/>
<path d="M537.0,212.2 L544.5,217.6" stroke="#ffffff" stroke-width="2.7" stroke-linecap="round"/>
<path d="M537.0,217.9 L544.5,223.3" stroke="#ffffff" stroke-width="2.7" stroke-linecap="round"/>
<path d="M537.0,223.6 L544.5,229" stroke="#ffffff" stroke-width="2.7" stroke-linecap="round"/>
<path d="M537.0,229.3 L544.5,234.7" stroke="#ffffff" stroke-width="2.7" stroke-linecap="round"/>
<path d="M537.0,235 L544.5,240.4" stroke="#ffffff" stroke-width="2.7" stroke-linecap="round"/>
<path d="M537.0,240.7 L544.5,246.1" stroke="#ffffff" stroke-width="2.7" stroke-linecap="round"/>
<path d="M537.0,246.4 L544.5,251.8" stroke="#ffffff" stroke-width="2.7" stroke-linecap="round"/>
<path d="M537.0,252.1 L544.5,257.5" stroke="#ffffff" stroke-width="2.7" stroke-linecap="round"/>
<path d="M537.0,257.8 L544.5,263.2" stroke="#ffffff" stroke-width="2.7" stroke-linecap="round"/>
<path d="M537.0,263.5 L544.5,268.9" stroke="#ffffff" stroke-width="2.7" stroke-linecap="round"/>
<path d="M537.0,269.2 L544.5,274.6" stroke="#ffffff" stroke-width="2.7" stroke-linecap="round"/>
<path d="M537.0,274.9 L544.5,280.3" stroke="#ffffff" stroke-width="2.7" stroke-linecap="round"/>
<path d="M537.0,280.6 L544.5,286" stroke="#ffffff" stroke-width="2.7" stroke-linecap="round"/>
<path d="M537.0,286.3 L544.5,291.7" stroke="#ffffff" stroke-width="2.7" stroke-linecap="round"/>
<path d="M537.0,292 L544.5,297.4" stroke="#ffffff" stroke-width="2.7" stroke-linecap="round"/>
<path d="M537.0,297.7 L544.5,303.1" stroke="#ffffff" stroke-width="2.7" stroke-linecap="round"/>
<path d="M537.0,303.4 L544.5,308.8" stroke="#ffffff" stroke-width="2.7" stroke-linecap="round"/>
<path d="M537.0,309.1 L544.5,314.5" stroke="#ffffff" stroke-width="2.7" stroke-linecap="round"/>
<path d="M537.0,314.8 L544.5,320.2" stroke="#ffffff" stroke-width="2.7" stroke-linecap="round"/>
<path d="M537.0,320.5 L544.5,325.9" stroke="#ffffff" stroke-width="2.7" stroke-linecap="round"/>
<path d="M537.0,326.2 L544.5,331.6" stroke="#ffffff" stroke-width="2.7" stroke-linecap="round"/>
<path d="M537.0,331.9 L544.5,337.3" stroke="#ffffff" stroke-width="2.7" stroke-linecap="round"/>
<path d="M537.0,337.6 L544.5,343" stroke="#ffffff" stroke-width="2.7" stroke-linecap="round"/>
<path d="M537.0,343.3 L544.5,348.7" stroke="#ffffff" stroke-width="2.7" stroke-linecap="round"/>
<path d="M537.0,349 L544.5,354.4" stroke="#ffffff" stroke-width="2.7" stroke-linecap="round"/>
<path d="M537.0,354.7 L544.5,360.1" stroke="#ffffff" stroke-width="2.7" stroke-linecap="round"/>
<path d="M537.0,360.4 L544.5,365.8" stroke="#ffffff" stroke-width="2.7" stroke-linecap="round"/>
<path d="M537.0,366.1 L544.5,371.5" stroke="#ffffff" stroke-width="2.7" stroke-linecap="round"/>
<path d="M537.0,371.8 L544.5,377.2" stroke="#ffffff" stroke-width="2.7" stroke-linecap="round"/>
<path d="M537.0,377.5 L544.5,382.9" stroke="#ffffff" stroke-width="2.7" stroke-linecap="round"/>
<path d="M537.0,383.2 L544.5,388.6" stroke="#ffffff" stroke-width="2.7" stroke-linecap="round"/>
<path d="M537.0,388.9 L544.5,394.3" stroke="#ffffff" stroke-width="2.7" stroke-linecap="round"/>
<path d="M537.0,394.6 L544.5,400" stroke="#ffffff" stroke-width="2.7" stroke-linecap="round"/>
<path d="M537.0,400.3 L544.5,405.7" stroke="#ffffff" stroke-width="2.7" stroke-linecap="round"/>
<path d="M537.0,406 L544.5,411.4" stroke="#ffffff" stroke-width="2.7" stroke-linecap="round"/>
<path d="M537.0,411.7 L544.5,417.1" stroke="#ffffff" stroke-width="2.7" stroke-linecap="round"/>
<path d="M537.0,417.4 L544.5,422.8" stroke="#ffffff" stroke-width="2.7" stroke-linecap="round"/>
<path d="M537.0,423.1 L544.5,428.5" stroke="#ffffff" stroke-width="2.7" stroke-linecap="round"/>
<path d="M537.0,428.8 L544.5,434.2" stroke="#ffffff" stroke-width="2.7" stroke-linecap="round"/>
<path d="M537.0,434.5 L544.5,439.9" stroke="#ffffff" stroke-width="2.7" stroke-linecap="round"/>
<path d="M537.0,440.2 L544.5,445.6" stroke="#ffffff" stroke-width="2.7" stroke-linecap="round"/>
<rect x="534.7" y="194" width="1.5" height="242" fill="#2a2a2a"/>
</g>
<g clip-path="url(#fgR)">
<path d="M606.2,184 L599.1,189.1" stroke="#35304a" stroke-width="4.7" stroke-linecap="round"/>
<path d="M606.2,189.7 L599.1,194.8" stroke="#35304a" stroke-width="4.7" stroke-linecap="round"/>
<path d="M606.2,195.4 L599.1,200.5" stroke="#35304a" stroke-width="4.7" stroke-linecap="round"/>
<path d="M606.2,201.1 L599.1,206.2" stroke="#35304a" stroke-width="4.7" stroke-linecap="round"/>
<path d="M606.2,206.8 L599.1,211.9" stroke="#35304a" stroke-width="4.7" stroke-linecap="round"/>
<path d="M606.2,212.5 L599.1,217.6" stroke="#35304a" stroke-width="4.7" stroke-linecap="round"/>
<path d="M606.2,218.2 L599.1,223.3" stroke="#35304a" stroke-width="4.7" stroke-linecap="round"/>
<path d="M606.2,223.9 L599.1,229" stroke="#35304a" stroke-width="4.7" stroke-linecap="round"/>
<path d="M606.2,229.6 L599.1,234.7" stroke="#35304a" stroke-width="4.7" stroke-linecap="round"/>
<path d="M606.2,235.3 L599.1,240.4" stroke="#35304a" stroke-width="4.7" stroke-linecap="round"/>
<path d="M606.2,241 L599.1,246.1" stroke="#35304a" stroke-width="4.7" stroke-linecap="round"/>
<path d="M606.2,246.7 L599.1,251.8" stroke="#35304a" stroke-width="4.7" stroke-linecap="round"/>
<path d="M606.2,252.4 L599.1,257.5" stroke="#35304a" stroke-width="4.7" stroke-linecap="round"/>
<path d="M606.2,258.1 L599.1,263.2" stroke="#35304a" stroke-width="4.7" stroke-linecap="round"/>
<path d="M606.2,263.8 L599.1,268.9" stroke="#35304a" stroke-width="4.7" stroke-linecap="round"/>
<path d="M606.2,269.5 L599.1,274.6" stroke="#35304a" stroke-width="4.7" stroke-linecap="round"/>
<path d="M606.2,275.2 L599.1,280.3" stroke="#35304a" stroke-width="4.7" stroke-linecap="round"/>
<path d="M606.2,280.9 L599.1,286" stroke="#35304a" stroke-width="4.7" stroke-linecap="round"/>
<path d="M606.2,286.6 L599.1,291.7" stroke="#35304a" stroke-width="4.7" stroke-linecap="round"/>
<path d="M606.2,292.3 L599.1,297.4" stroke="#35304a" stroke-width="4.7" stroke-linecap="round"/>
<path d="M606.2,298 L599.1,303.1" stroke="#35304a" stroke-width="4.7" stroke-linecap="round"/>
<path d="M606.2,303.7 L599.1,308.8" stroke="#35304a" stroke-width="4.7" stroke-linecap="round"/>
<path d="M606.2,309.4 L599.1,314.5" stroke="#35304a" stroke-width="4.7" stroke-linecap="round"/>
<path d="M606.2,315.1 L599.1,320.2" stroke="#35304a" stroke-width="4.7" stroke-linecap="round"/>
<path d="M606.2,320.8 L599.1,325.9" stroke="#35304a" stroke-width="4.7" stroke-linecap="round"/>
<path d="M606.2,326.5 L599.1,331.6" stroke="#35304a" stroke-width="4.7" stroke-linecap="round"/>
<path d="M606.2,332.2 L599.1,337.3" stroke="#35304a" stroke-width="4.7" stroke-linecap="round"/>
<path d="M606.2,337.9 L599.1,343" stroke="#35304a" stroke-width="4.7" stroke-linecap="round"/>
<path d="M606.2,343.6 L599.1,348.7" stroke="#35304a" stroke-width="4.7" stroke-linecap="round"/>
<path d="M606.2,349.3 L599.1,354.4" stroke="#35304a" stroke-width="4.7" stroke-linecap="round"/>
<path d="M606.2,355 L599.1,360.1" stroke="#35304a" stroke-width="4.7" stroke-linecap="round"/>
<path d="M606.2,360.7 L599.1,365.8" stroke="#35304a" stroke-width="4.7" stroke-linecap="round"/>
<path d="M606.2,366.4 L599.1,371.5" stroke="#35304a" stroke-width="4.7" stroke-linecap="round"/>
<path d="M606.2,372.1 L599.1,377.2" stroke="#35304a" stroke-width="4.7" stroke-linecap="round"/>
<path d="M606.2,377.8 L599.1,382.9" stroke="#35304a" stroke-width="4.7" stroke-linecap="round"/>
<path d="M606.2,383.5 L599.1,388.6" stroke="#35304a" stroke-width="4.7" stroke-linecap="round"/>
<path d="M606.2,389.2 L599.1,394.3" stroke="#35304a" stroke-width="4.7" stroke-linecap="round"/>
<path d="M606.2,394.9 L599.1,400" stroke="#35304a" stroke-width="4.7" stroke-linecap="round"/>
<path d="M606.2,400.6 L599.1,405.7" stroke="#35304a" stroke-width="4.7" stroke-linecap="round"/>
<path d="M606.2,406.3 L599.1,411.4" stroke="#35304a" stroke-width="4.7" stroke-linecap="round"/>
<path d="M606.2,412 L599.1,417.1" stroke="#35304a" stroke-width="4.7" stroke-linecap="round"/>
<path d="M606.2,417.7 L599.1,422.8" stroke="#35304a" stroke-width="4.7" stroke-linecap="round"/>
<path d="M606.2,423.4 L599.1,428.5" stroke="#35304a" stroke-width="4.7" stroke-linecap="round"/>
<path d="M606.2,429.1 L599.1,434.2" stroke="#35304a" stroke-width="4.7" stroke-linecap="round"/>
<path d="M606.2,434.8 L599.1,439.9" stroke="#35304a" stroke-width="4.7" stroke-linecap="round"/>
<path d="M606.2,440.5 L599.1,445.6" stroke="#35304a" stroke-width="4.7" stroke-linecap="round"/>
<path d="M606.6,183.7 L599.1,189.1" stroke="#ffffff" stroke-width="2.7" stroke-linecap="round"/>
<path d="M606.6,189.4 L599.1,194.8" stroke="#ffffff" stroke-width="2.7" stroke-linecap="round"/>
<path d="M606.6,195.1 L599.1,200.5" stroke="#ffffff" stroke-width="2.7" stroke-linecap="round"/>
<path d="M606.6,200.8 L599.1,206.2" stroke="#ffffff" stroke-width="2.7" stroke-linecap="round"/>
<path d="M606.6,206.5 L599.1,211.9" stroke="#ffffff" stroke-width="2.7" stroke-linecap="round"/>
<path d="M606.6,212.2 L599.1,217.6" stroke="#ffffff" stroke-width="2.7" stroke-linecap="round"/>
<path d="M606.6,217.9 L599.1,223.3" stroke="#ffffff" stroke-width="2.7" stroke-linecap="round"/>
<path d="M606.6,223.6 L599.1,229" stroke="#ffffff" stroke-width="2.7" stroke-linecap="round"/>
<path d="M606.6,229.3 L599.1,234.7" stroke="#ffffff" stroke-width="2.7" stroke-linecap="round"/>
<path d="M606.6,235 L599.1,240.4" stroke="#ffffff" stroke-width="2.7" stroke-linecap="round"/>
<path d="M606.6,240.7 L599.1,246.1" stroke="#ffffff" stroke-width="2.7" stroke-linecap="round"/>
<path d="M606.6,246.4 L599.1,251.8" stroke="#ffffff" stroke-width="2.7" stroke-linecap="round"/>
<path d="M606.6,252.1 L599.1,257.5" stroke="#ffffff" stroke-width="2.7" stroke-linecap="round"/>
<path d="M606.6,257.8 L599.1,263.2" stroke="#ffffff" stroke-width="2.7" stroke-linecap="round"/>
<path d="M606.6,263.5 L599.1,268.9" stroke="#ffffff" stroke-width="2.7" stroke-linecap="round"/>
<path d="M606.6,269.2 L599.1,274.6" stroke="#ffffff" stroke-width="2.7" stroke-linecap="round"/>
<path d="M606.6,274.9 L599.1,280.3" stroke="#ffffff" stroke-width="2.7" stroke-linecap="round"/>
<path d="M606.6,280.6 L599.1,286" stroke="#ffffff" stroke-width="2.7" stroke-linecap="round"/>
<path d="M606.6,286.3 L599.1,291.7" stroke="#ffffff" stroke-width="2.7" stroke-linecap="round"/>
<path d="M606.6,292 L599.1,297.4" stroke="#ffffff" stroke-width="2.7" stroke-linecap="round"/>
<path d="M606.6,297.7 L599.1,303.1" stroke="#ffffff" stroke-width="2.7" stroke-linecap="round"/>
<path d="M606.6,303.4 L599.1,308.8" stroke="#ffffff" stroke-width="2.7" stroke-linecap="round"/>
<path d="M606.6,309.1 L599.1,314.5" stroke="#ffffff" stroke-width="2.7" stroke-linecap="round"/>
<path d="M606.6,314.8 L599.1,320.2" stroke="#ffffff" stroke-width="2.7" stroke-linecap="round"/>
<path d="M606.6,320.5 L599.1,325.9" stroke="#ffffff" stroke-width="2.7" stroke-linecap="round"/>
<path d="M606.6,326.2 L599.1,331.6" stroke="#ffffff" stroke-width="2.7" stroke-linecap="round"/>
<path d="M606.6,331.9 L599.1,337.3" stroke="#ffffff" stroke-width="2.7" stroke-linecap="round"/>
<path d="M606.6,337.6 L599.1,343" stroke="#ffffff" stroke-width="2.7" stroke-linecap="round"/>
<path d="M606.6,343.3 L599.1,348.7" stroke="#ffffff" stroke-width="2.7" stroke-linecap="round"/>
<path d="M606.6,349 L599.1,354.4" stroke="#ffffff" stroke-width="2.7" stroke-linecap="round"/>
<path d="M606.6,354.7 L599.1,360.1" stroke="#ffffff" stroke-width="2.7" stroke-linecap="round"/>
<path d="M606.6,360.4 L599.1,365.8" stroke="#ffffff" stroke-width="2.7" stroke-linecap="round"/>
<path d="M606.6,366.1 L599.1,371.5" stroke="#ffffff" stroke-width="2.7" stroke-linecap="round"/>
<path d="M606.6,371.8 L599.1,377.2" stroke="#ffffff" stroke-width="2.7" stroke-linecap="round"/>
<path d="M606.6,377.5 L599.1,382.9" stroke="#ffffff" stroke-width="2.7" stroke-linecap="round"/>
<path d="M606.6,383.2 L599.1,388.6" stroke="#ffffff" stroke-width="2.7" stroke-linecap="round"/>
<path d="M606.6,388.9 L599.1,394.3" stroke="#ffffff" stroke-width="2.7" stroke-linecap="round"/>
<path d="M606.6,394.6 L599.1,400" stroke="#ffffff" stroke-width="2.7" stroke-linecap="round"/>
<path d="M606.6,400.3 L599.1,405.7" stroke="#ffffff" stroke-width="2.7" stroke-linecap="round"/>
<path d="M606.6,406 L599.1,411.4" stroke="#ffffff" stroke-width="2.7" stroke-linecap="round"/>
<path d="M606.6,411.7 L599.1,417.1" stroke="#ffffff" stroke-width="2.7" stroke-linecap="round"/>
<path d="M606.6,417.4 L599.1,422.8" stroke="#ffffff" stroke-width="2.7" stroke-linecap="round"/>
<path d="M606.6,423.1 L599.1,428.5" stroke="#ffffff" stroke-width="2.7" stroke-linecap="round"/>
<path d="M606.6,428.8 L599.1,434.2" stroke="#ffffff" stroke-width="2.7" stroke-linecap="round"/>
<path d="M606.6,434.5 L599.1,439.9" stroke="#ffffff" stroke-width="2.7" stroke-linecap="round"/>
<path d="M606.6,440.2 L599.1,445.6" stroke="#ffffff" stroke-width="2.7" stroke-linecap="round"/>
<rect x="607.4" y="194" width="1.5" height="242" fill="#2a2a2a"/>
</g>
<line x1="548.3" y1="196" x2="548.3" y2="434" stroke="#323232" stroke-width="0.976" />
<line x1="596.3" y1="196" x2="596.3" y2="434" stroke="#323232" stroke-width="0.976" />
<rect x="532.4" y="212.6" width="2.8" height="16.4" rx="1.4" fill="#f4f4f4" stroke="#323232" stroke-width="0.7"/>
<rect x="608.4" y="212.6" width="2.8" height="16.4" rx="1.4" fill="#f4f4f4" stroke="#323232" stroke-width="0.7"/>
<rect x="532.4" y="391" width="2.8" height="13.6" rx="1.4" fill="#f4f4f4" stroke="#323232" stroke-width="0.7"/>
<rect x="608.4" y="391" width="2.8" height="13.6" rx="1.4" fill="#f4f4f4" stroke="#323232" stroke-width="0.7"/>
<path d="M561.5,214 L561.5,276.4 Q561.5,279.8 565,279.8 L580,279.8 Q583.4,279.8 583.4,276.4 L583.4,214" stroke="#323232" stroke-width="1.098" fill="none" />
<path d="M549.6,204.6 C551,210 555.6,212.8 560.6,214 L561.5,216" stroke="#2a2a2a" stroke-width="1.586" fill="none" />
<path d="M595.2,204.6 C593.8,210 589.2,212.8 584.2,214 L583.4,216" stroke="#2a2a2a" stroke-width="1.586" fill="none" />
<path d="M552,207 C554,216 555.6,226 555.2,232 C554.6,240 550.6,246 549,252" stroke="#323232" stroke-width="0.854" fill="none" />
<path d="M592.6,207 C590.6,216 589,226 589.4,232 C590,240 594,246 595.6,252" stroke="#323232" stroke-width="0.854" fill="none" />
<path d="M555.4,204 C557.6,214 558.6,224 558.4,232 C558,244 553,254 549.4,262" stroke="#555" stroke-width="0.732" fill="none" />
<path d="M589.2,204 C587,214 586,224 586.2,232 C586.6,244 591.6,254 595.2,262" stroke="#555" stroke-width="0.732" fill="none" />
<line x1="561.5" y1="237.2" x2="583.4" y2="237.2" stroke="#9878c6" stroke-width="0.732" />
<line x1="561.5" y1="244" x2="583.4" y2="244" stroke="#9878c6" stroke-width="0.732" />
<path d="M548.6,252 L561.5,257.6 M596,252 L583.4,257.6" stroke="#323232" stroke-width="0.732" fill="none" />
<path d="M548.9,264 C556,270 564,278.4 572.3,279 C580.6,278.4 588.6,270 595.7,264" stroke="#a58bc9" stroke-width="0.732" fill="none" />
<path d="M548.9,271 C556,276 564,284 572.3,284.4 C580.6,284 588.6,276 595.7,271" stroke="#a58bc9" stroke-width="0.732" fill="none" />
<path d="M548.9,272 C549.4,290 560,300.3 572.3,300.3 C584.6,300.3 595.2,290 595.7,272" stroke="#323232" stroke-width="0.976" fill="none" />
<path d="M548.9,295.6 C556,298.6 564,299.6 572.3,299.6 C580.6,299.6 588.6,298.6 595.7,295.6" stroke="#323232" stroke-width="0.732" fill="none" />
<path d="M596,249.6 L604.6,247.4 L607.2,250 L607.2,269 L604.6,272.6 L596,270.6 Z" fill="#f3f3f3"/>
<rect x="596.4" y="251.6" width="4.4" height="18" fill="#fafafa" stroke="#323232" stroke-width="0.6"/>
<rect x="600.7" y="252.2" width="3.2" height="16.2" rx="1.4" fill="#111"/>
<path d="M535.4,432 L533.2,427.8 L531.4,431 L531.4,445.4 L538,449.3 L551.7,439.4 L548.4,436.4" stroke="#666" stroke-width="0.854" fill="#f6f6f6" />
<path d="M608.8,432 L611,427.8 L612.7,431 L612.7,445.4 L606.2,449.3 L592.6,439.4 L596,436.4" stroke="#666" stroke-width="0.854" fill="#f6f6f6" />
<path d="M532.4,430.6 C538,435.6 545,437.6 552,438.8" stroke="#9878c6" stroke-width="0.61" fill="none" />
<path d="M611.8,430.6 C606,435.6 599,437.6 592.4,438.8" stroke="#9878c6" stroke-width="0.61" fill="none" />
<line x1="551.7" y1="439.4" x2="592.6" y2="439.4" stroke="#323232" stroke-width="1.098" />
<rect x="556.2" y="433.6" width="31.4" height="5.8" fill="#f8f8f8" stroke="#323232" stroke-width="0.8"/>
</g>
</g>
</svg>
</body></html>
